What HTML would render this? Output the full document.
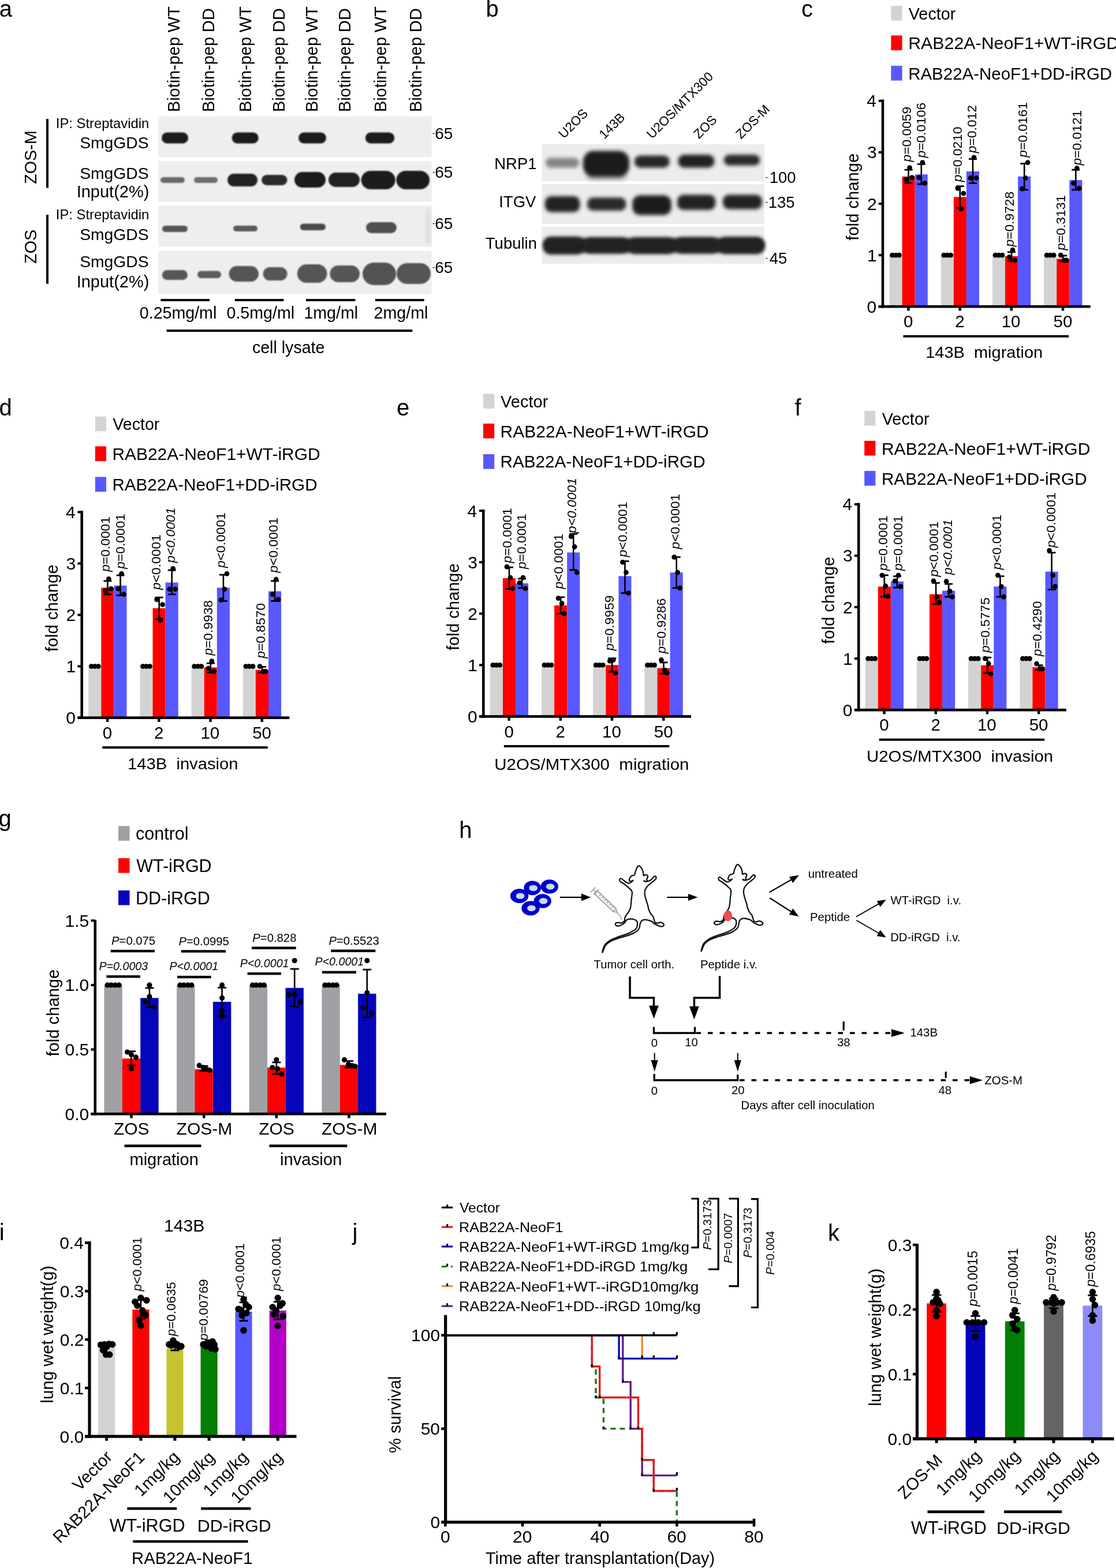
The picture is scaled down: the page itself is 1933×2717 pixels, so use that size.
<!DOCTYPE html>
<html><head><meta charset="utf-8"><title>Figure</title>
<style>html,body{margin:0;padding:0;background:#fff;}svg{display:block;}text{white-space:pre;}</style></head>
<body>
<svg width="1933" height="2717" viewBox="0 0 1933 2717" font-family='"Liberation Sans", sans-serif'>
<rect width="1933" height="2717" fill="#fff"/>
<defs>
<filter id="b2" x="-30%" y="-60%" width="160%" height="220%"><feGaussianBlur stdDeviation="2"/></filter>
<filter id="b3" x="-30%" y="-60%" width="160%" height="220%"><feGaussianBlur stdDeviation="3"/></filter>
<filter id="b4" x="-30%" y="-60%" width="160%" height="220%"><feGaussianBlur stdDeviation="4"/></filter>
<filter id="b1" x="-30%" y="-60%" width="160%" height="220%"><feGaussianBlur stdDeviation="1.2"/></filter>
</defs>
<text x="-1.3" y="28.5" font-size="40.0">a</text>
<text transform="translate(311.1,194.1) rotate(-90)" font-size="28.9">Biotin-pep WT</text>
<text transform="translate(370.5,194.1) rotate(-90)" font-size="28.9">Biotin-pep DD</text>
<text transform="translate(434.5,194.1) rotate(-90)" font-size="28.9">Biotin-pep WT</text>
<text transform="translate(493.0,194.1) rotate(-90)" font-size="28.9">Biotin-pep DD</text>
<text transform="translate(550.0,194.1) rotate(-90)" font-size="28.9">Biotin-pep WT</text>
<text transform="translate(607.0,194.1) rotate(-90)" font-size="28.9">Biotin-pep DD</text>
<text transform="translate(668.5,194.1) rotate(-90)" font-size="28.9">Biotin-pep WT</text>
<text transform="translate(730.0,194.1) rotate(-90)" font-size="28.9">Biotin-pep DD</text>
<rect x="274.5" y="201.5" width="473.0" height="71.0" fill="#eeeeee"/>
<rect x="274.5" y="278.8" width="473.0" height="70.7" fill="#eeeeee"/>
<rect x="274.5" y="356.2" width="473.0" height="71.3" fill="#eeeeee"/>
<rect x="274.5" y="434.5" width="473.0" height="75.0" fill="#eeeeee"/>
<rect x="280.0" y="229.5" width="46.0" height="19.0" rx="9.5" fill="#1c1c1c" filter="url(#b1)"/>
<rect x="401.6" y="229.5" width="46.2" height="19.0" rx="9.5" fill="#1c1c1c" filter="url(#b1)"/>
<rect x="517.0" y="229.5" width="48.0" height="19.0" rx="9.5" fill="#1c1c1c" filter="url(#b1)"/>
<rect x="632.8" y="229.5" width="50.4" height="19.0" rx="9.5" fill="#1c1c1c" filter="url(#b1)"/>
<rect x="278.0" y="307.0" width="42.0" height="10.0" rx="5.0" fill="#6a6a6a" filter="url(#b1)"/>
<rect x="336.0" y="307.0" width="41.0" height="10.0" rx="5.0" fill="#6e6e6e" filter="url(#b1)"/>
<rect x="394.0" y="301.0" width="52.0" height="22.0" rx="11.0" fill="#222" filter="url(#b1)"/>
<rect x="453.0" y="303.0" width="44.5" height="18.0" rx="9.0" fill="#2a2a2a" filter="url(#b1)"/>
<rect x="510.0" y="298.0" width="54.0" height="27.0" rx="13.5" fill="#1e1e1e" filter="url(#b1)"/>
<rect x="569.0" y="299.0" width="54.0" height="25.0" rx="12.5" fill="#222" filter="url(#b1)"/>
<rect x="625.6" y="296.0" width="59.1" height="32.0" rx="16.0" fill="#1a1a1a" filter="url(#b1)"/>
<rect x="686.5" y="296.0" width="57.5" height="32.0" rx="16.0" fill="#1a1a1a" filter="url(#b1)"/>
<rect x="281.0" y="391.0" width="44.0" height="11.0" rx="5.5" fill="#555" filter="url(#b1)"/>
<rect x="404.0" y="391.0" width="42.0" height="10.0" rx="5.0" fill="#5a5a5a" filter="url(#b1)"/>
<rect x="519.7" y="387.5" width="44.3" height="11.5" rx="5.8" fill="#4c4c4c" filter="url(#b1)"/>
<rect x="634.0" y="385.0" width="53.0" height="19.0" rx="9.5" fill="#505050" filter="url(#b1)"/>
<rect x="738.0" y="362.0" width="8.0" height="61.0" rx="3.0" fill="#dcdcdc" filter="url(#b3)"/>
<rect x="280.8" y="468.0" width="44.2" height="17.0" rx="8.5" fill="#575757" filter="url(#b1)"/>
<rect x="342.0" y="469.5" width="41.0" height="12.5" rx="6.2" fill="#5c5c5c" filter="url(#b1)"/>
<rect x="396.6" y="461.0" width="51.4" height="27.0" rx="13.5" fill="#555" filter="url(#b1)"/>
<rect x="455.7" y="463.0" width="41.8" height="23.0" rx="11.5" fill="#575757" filter="url(#b1)"/>
<rect x="514.8" y="458.0" width="51.7" height="32.0" rx="16.0" fill="#545454" filter="url(#b1)"/>
<rect x="571.4" y="460.0" width="51.6" height="29.0" rx="14.5" fill="#565656" filter="url(#b1)"/>
<rect x="628.0" y="455.0" width="58.0" height="39.0" rx="19.5" fill="#535353" filter="url(#b1)"/>
<rect x="687.0" y="456.0" width="59.0" height="36.0" rx="18.0" fill="#555" filter="url(#b1)"/>
<text x="258.2" y="222.0" font-size="23.8" text-anchor="end">IP: Streptavidin</text>
<text x="257.7" y="256.5" font-size="28.3" text-anchor="end">SmgGDS</text>
<text x="257.7" y="309.5" font-size="28.3" text-anchor="end">SmgGDS</text>
<text x="258.4" y="341.5" font-size="29.0" text-anchor="end">Input(2%)</text>
<text x="258.2" y="380.0" font-size="23.8" text-anchor="end">IP: Streptavidin</text>
<text x="257.7" y="415.5" font-size="28.3" text-anchor="end">SmgGDS</text>
<text x="257.7" y="463.2" font-size="28.3" text-anchor="end">SmgGDS</text>
<text x="258.4" y="497.8" font-size="29.0" text-anchor="end">Input(2%)</text>
<text transform="translate(62.8,318.9) rotate(-90)" font-size="28.8">ZOS-M</text>
<text transform="translate(62.8,456.9) rotate(-90)" font-size="28.8">ZOS</text>
<rect x="80.0" y="206.0" width="4.0" height="119.5" fill="#000"/>
<rect x="80.0" y="372.0" width="4.0" height="119.7" fill="#000"/>
<text x="748.8" y="241.2" font-size="28"><tspan font-size="14" dy="-5">-</tspan><tspan dy="5" dx="-0.3">65</tspan></text>
<text x="748.8" y="307.7" font-size="28"><tspan font-size="14" dy="-5">-</tspan><tspan dy="5" dx="-0.3">65</tspan></text>
<text x="748.8" y="397.3" font-size="28"><tspan font-size="14" dy="-5">-</tspan><tspan dy="5" dx="-0.3">65</tspan></text>
<text x="748.8" y="472.6" font-size="28"><tspan font-size="14" dy="-5">-</tspan><tspan dy="5" dx="-0.3">65</tspan></text>
<rect x="278.4" y="518.0" width="84.6" height="4.0" fill="#000"/>
<rect x="406.8" y="518.0" width="84.6" height="4.0" fill="#000"/>
<rect x="530.0" y="518.0" width="85.4" height="4.0" fill="#000"/>
<rect x="650.0" y="518.0" width="84.6" height="4.0" fill="#000"/>
<text x="241.8" y="552.0" font-size="28.6">0.25mg/ml</text>
<text x="392.5" y="552.0" font-size="28.6">0.5mg/ml</text>
<text x="526.4" y="552.0" font-size="28.6">1mg/ml</text>
<text x="647.6" y="552.0" font-size="28.6">2mg/ml</text>
<rect x="288.6" y="571.0" width="425.7" height="4.0" fill="#000"/>
<text x="436.9" y="612.3" font-size="28.6">cell lysate</text>
<text x="841.5" y="28.5" font-size="40.0">b</text>
<rect x="938.6" y="250.0" width="385.2" height="63.8" fill="#ececec"/>
<rect x="938.6" y="319.0" width="385.2" height="69.0" fill="#ececec"/>
<rect x="938.6" y="393.0" width="385.2" height="64.0" fill="#ececec"/>
<rect x="945.0" y="273.5" width="58.0" height="17.0" rx="8.5" fill="#858585" filter="url(#b3)"/>
<rect x="1016.0" y="292.0" width="68.0" height="19.0" rx="8.0" fill="#9a9a9a" filter="url(#b4)"/>
<rect x="1010.0" y="261.5" width="80.0" height="44.1" rx="18.0" fill="#1c1c1c" filter="url(#b3)"/>
<rect x="1098.6" y="269.5" width="61.4" height="21.0" rx="10.5" fill="#262626" filter="url(#b3)"/>
<rect x="1174.4" y="268.0" width="63.1" height="22.5" rx="11.2" fill="#222" filter="url(#b3)"/>
<rect x="1253.7" y="268.0" width="62.6" height="18.7" rx="9.3" fill="#2c2c2c" filter="url(#b3)"/>
<rect x="943.9" y="340.0" width="60.6" height="27.5" rx="11.0" fill="#222" filter="url(#b3)"/>
<rect x="1017.0" y="342.2" width="67.5" height="22.8" rx="10.0" fill="#2a2a2a" filter="url(#b3)"/>
<rect x="1095.4" y="338.5" width="67.4" height="34.0" rx="13.0" fill="#1c1c1c" filter="url(#b3)"/>
<rect x="1173.0" y="337.5" width="66.3" height="26.2" rx="11.0" fill="#222" filter="url(#b3)"/>
<rect x="1252.0" y="337.5" width="68.0" height="24.9" rx="11.0" fill="#222" filter="url(#b3)"/>
<rect x="941.4" y="413.0" width="382.4" height="24.5" rx="12.0" fill="#262626" filter="url(#b3)"/>
<rect x="941.4" y="410.5" width="70.6" height="30.0" rx="13.0" fill="#202020" filter="url(#b3)"/>
<rect x="1010.0" y="412.0" width="80.0" height="26.5" rx="13.0" fill="#202020" filter="url(#b3)"/>
<rect x="1088.0" y="412.0" width="82.0" height="27.5" rx="13.0" fill="#202020" filter="url(#b3)"/>
<rect x="1168.0" y="411.5" width="78.0" height="27.0" rx="13.0" fill="#202020" filter="url(#b3)"/>
<rect x="1244.0" y="411.0" width="79.8" height="28.5" rx="13.0" fill="#202020" filter="url(#b3)"/>
<text x="929.6" y="293.0" font-size="27.5" text-anchor="end">NRP1</text>
<text x="928.4" y="358.6" font-size="27.5" text-anchor="end">ITGV</text>
<text x="930.0" y="431.0" font-size="27.5" text-anchor="end">Tubulin</text>
<text x="1325.5" y="317.0" font-size="27.5"><tspan font-size="14" dy="-5">-</tspan><tspan dy="5" dx="2.5">100</tspan></text>
<text x="1325.5" y="360.0" font-size="27.5"><tspan font-size="14" dy="-5">-</tspan><tspan dy="5" dx="0.5">135</tspan></text>
<text x="1325.5" y="457.0" font-size="27.5"><tspan font-size="14" dy="-5">-</tspan><tspan dy="5" dx="2.5">45</tspan></text>
<text transform="translate(976.5,241.0) rotate(-45)" font-size="22.4">U2OS</text>
<text transform="translate(1046.8,241.9) rotate(-45)" font-size="22.4">143B</text>
<text transform="translate(1129.3,241.4) rotate(-45)" font-size="22.4">U2OS/MTX300</text>
<text transform="translate(1210.6,241.6) rotate(-45)" font-size="22.4">ZOS</text>
<text transform="translate(1283.5,241.7) rotate(-45)" font-size="22.4">ZOS-M</text>
<text x="1387.9" y="28.7" font-size="40.0">c</text>
<rect x="1543.4" y="10.0" width="19.2" height="25.6" fill="#d3d3d3"/>
<text x="1573.7" y="33.5" font-size="29.5" textLength="81.8" lengthAdjust="spacingAndGlyphs">Vector</text>
<rect x="1543.4" y="61.5" width="19.2" height="25.6" fill="#ff0000"/>
<text x="1573.2" y="85.0" font-size="29.5" textLength="365.1" lengthAdjust="spacingAndGlyphs">RAB22A-NeoF1+WT-iRGD</text>
<rect x="1543.4" y="114.0" width="19.2" height="25.6" fill="#5858ff"/>
<text x="1573.2" y="137.5" font-size="29.5" textLength="352.9" lengthAdjust="spacingAndGlyphs">RAB22A-NeoF1+DD-iRGD</text>
<rect x="1540.5" y="442.1" width="22.1" height="89.1" fill="#d3d3d3"/>
<rect x="1562.6" y="305.8" width="22.1" height="225.4" fill="#ff0000"/>
<rect x="1584.7" y="302.2" width="22.1" height="229.0" fill="#5858ff"/>
<rect x="1629.7" y="442.1" width="22.1" height="89.1" fill="#d3d3d3"/>
<rect x="1651.8" y="341.4" width="22.1" height="189.8" fill="#ff0000"/>
<rect x="1673.9" y="296.9" width="22.1" height="234.3" fill="#5858ff"/>
<rect x="1718.9" y="442.1" width="22.1" height="89.1" fill="#d3d3d3"/>
<rect x="1741.0" y="443.9" width="22.1" height="87.3" fill="#ff0000"/>
<rect x="1763.1" y="305.8" width="22.1" height="225.4" fill="#5858ff"/>
<rect x="1808.1" y="442.1" width="22.1" height="89.1" fill="#d3d3d3"/>
<rect x="1830.2" y="448.3" width="22.1" height="82.9" fill="#ff0000"/>
<rect x="1852.3" y="312.0" width="22.1" height="219.2" fill="#5858ff"/>
<circle cx="1545.5" cy="442.1" r="4.4" fill="#000"/>
<circle cx="1551.5" cy="442.1" r="4.4" fill="#000"/>
<circle cx="1557.5" cy="442.1" r="4.4" fill="#000"/>
<rect x="1572.3" y="294.2" width="2.6" height="23.2" fill="#000"/>
<rect x="1566.6" y="292.8" width="14.0" height="2.8" fill="#000"/>
<rect x="1566.6" y="316.0" width="14.0" height="2.8" fill="#000"/>
<circle cx="1569.6" cy="311.1" r="4.4" fill="#000"/>
<circle cx="1575.6" cy="290.6" r="4.4" fill="#000"/>
<circle cx="1579.6" cy="307.6" r="4.4" fill="#000"/>
<rect x="1594.5" y="284.4" width="2.6" height="34.7" fill="#000"/>
<rect x="1588.8" y="283.0" width="14.0" height="2.8" fill="#000"/>
<rect x="1588.8" y="317.7" width="14.0" height="2.8" fill="#000"/>
<circle cx="1591.8" cy="307.6" r="4.4" fill="#000"/>
<circle cx="1597.8" cy="281.7" r="4.4" fill="#000"/>
<circle cx="1601.8" cy="317.4" r="4.4" fill="#000"/>
<circle cx="1634.8" cy="442.1" r="4.4" fill="#000"/>
<circle cx="1640.8" cy="442.1" r="4.4" fill="#000"/>
<circle cx="1646.8" cy="442.1" r="4.4" fill="#000"/>
<rect x="1661.5" y="322.7" width="2.6" height="37.4" fill="#000"/>
<rect x="1655.8" y="321.3" width="14.0" height="2.8" fill="#000"/>
<rect x="1655.8" y="358.7" width="14.0" height="2.8" fill="#000"/>
<circle cx="1658.8" cy="326.3" r="4.4" fill="#000"/>
<circle cx="1664.8" cy="361.9" r="4.4" fill="#000"/>
<circle cx="1668.8" cy="335.2" r="4.4" fill="#000"/>
<rect x="1683.7" y="275.5" width="2.6" height="41.9" fill="#000"/>
<rect x="1678.0" y="274.1" width="14.0" height="2.8" fill="#000"/>
<rect x="1678.0" y="316.0" width="14.0" height="2.8" fill="#000"/>
<circle cx="1681.0" cy="308.5" r="4.4" fill="#000"/>
<circle cx="1687.0" cy="272.8" r="4.4" fill="#000"/>
<circle cx="1691.0" cy="308.5" r="4.4" fill="#000"/>
<circle cx="1724.0" cy="442.1" r="4.4" fill="#000"/>
<circle cx="1730.0" cy="442.1" r="4.4" fill="#000"/>
<circle cx="1736.0" cy="442.1" r="4.4" fill="#000"/>
<rect x="1750.8" y="436.8" width="2.6" height="16.0" fill="#000"/>
<rect x="1745.0" y="435.4" width="14.0" height="2.8" fill="#000"/>
<rect x="1745.0" y="451.4" width="14.0" height="2.8" fill="#000"/>
<circle cx="1748.0" cy="445.7" r="4.4" fill="#000"/>
<circle cx="1754.0" cy="433.2" r="4.4" fill="#000"/>
<circle cx="1758.0" cy="451.0" r="4.4" fill="#000"/>
<rect x="1772.9" y="283.5" width="2.6" height="45.4" fill="#000"/>
<rect x="1767.2" y="282.1" width="14.0" height="2.8" fill="#000"/>
<rect x="1767.2" y="327.5" width="14.0" height="2.8" fill="#000"/>
<circle cx="1770.2" cy="327.2" r="4.4" fill="#000"/>
<circle cx="1776.2" cy="308.5" r="4.4" fill="#000"/>
<circle cx="1780.2" cy="281.7" r="4.4" fill="#000"/>
<circle cx="1813.1" cy="442.1" r="4.4" fill="#000"/>
<circle cx="1819.1" cy="442.1" r="4.4" fill="#000"/>
<circle cx="1825.1" cy="442.1" r="4.4" fill="#000"/>
<rect x="1839.9" y="443.0" width="2.6" height="9.8" fill="#000"/>
<rect x="1834.2" y="441.6" width="14.0" height="2.8" fill="#000"/>
<rect x="1834.2" y="451.4" width="14.0" height="2.8" fill="#000"/>
<circle cx="1837.2" cy="442.1" r="4.4" fill="#000"/>
<circle cx="1843.2" cy="451.0" r="4.4" fill="#000"/>
<circle cx="1847.2" cy="451.0" r="4.4" fill="#000"/>
<rect x="1862.0" y="294.2" width="2.6" height="34.7" fill="#000"/>
<rect x="1856.3" y="292.8" width="14.0" height="2.8" fill="#000"/>
<rect x="1856.3" y="327.5" width="14.0" height="2.8" fill="#000"/>
<circle cx="1859.3" cy="317.4" r="4.4" fill="#000"/>
<circle cx="1865.3" cy="291.5" r="4.4" fill="#000"/>
<circle cx="1869.3" cy="326.3" r="4.4" fill="#000"/>
<rect x="1526.7" y="172.5" width="4.6" height="361.0" fill="#000"/>
<rect x="1521.7" y="528.9" width="367.0" height="4.6" fill="#000"/>
<rect x="1521.7" y="529.2" width="7.3" height="4.0" fill="#000"/>
<text x="1518.3" y="541.7" font-size="30.0" text-anchor="end">0</text>
<rect x="1521.7" y="440.1" width="7.3" height="4.0" fill="#000"/>
<text x="1518.6" y="452.6" font-size="30.0" text-anchor="end">1</text>
<rect x="1521.7" y="351.0" width="7.3" height="4.0" fill="#000"/>
<text x="1518.6" y="363.5" font-size="30.0" text-anchor="end">2</text>
<rect x="1521.7" y="261.9" width="7.3" height="4.0" fill="#000"/>
<text x="1518.6" y="274.4" font-size="30.0" text-anchor="end">3</text>
<rect x="1521.7" y="172.8" width="7.3" height="4.0" fill="#000"/>
<text x="1518.0" y="185.3" font-size="30.0" text-anchor="end">4</text>
<rect x="1571.2" y="531.2" width="4.4" height="7.3" fill="#000"/>
<rect x="1660.4" y="531.2" width="4.4" height="7.3" fill="#000"/>
<rect x="1749.6" y="531.2" width="4.4" height="7.3" fill="#000"/>
<rect x="1838.8" y="531.2" width="4.4" height="7.3" fill="#000"/>
<text x="1565.1" y="567.4" font-size="29.5">0</text>
<text x="1654.3" y="567.4" font-size="29.5">2</text>
<text x="1734.7" y="567.4" font-size="29.5">10</text>
<text x="1824.5" y="567.4" font-size="29.5">50</text>
<rect x="1564.5" y="580.7" width="286.5" height="4.0" fill="#000"/>
<text x="1603.2" y="620.0" font-size="28.5" textLength="203.0" lengthAdjust="spacingAndGlyphs">143B  migration</text>
<text transform="translate(1487.0,416.8) rotate(-90)" font-size="29.2">fold change</text>
<text transform="translate(1578.2,280.5) rotate(-90)" font-size="22.8"><tspan font-style="italic">p</tspan>=0.0059</text>
<text transform="translate(1602.6,273.5) rotate(-90)" font-size="22.8"><tspan font-style="italic">p</tspan>=0.0106</text>
<text transform="translate(1666.3,315.3) rotate(-90)" font-size="22.8"><tspan font-style="italic">p</tspan>=0.0210</text>
<text transform="translate(1690.6,265.2) rotate(-90)" font-size="22.8"><tspan font-style="italic">p</tspan>=0.012</text>
<text transform="translate(1755.8,427.5) rotate(-90)" font-size="22.8"><tspan font-style="italic">p</tspan>=0.9728</text>
<text transform="translate(1778.6,272.8) rotate(-90)" font-size="22.8"><tspan font-style="italic">p</tspan>=0.0161</text>
<text transform="translate(1845.4,433.7) rotate(-90)" font-size="22.8"><tspan font-style="italic">p</tspan>=0.3131</text>
<text transform="translate(1872.6,286.5) rotate(-90)" font-size="22.8"><tspan font-style="italic">p</tspan>=0.0121</text>
<text x="-1.6" y="720.3" font-size="40.0">d</text>
<rect x="164.8" y="721.7" width="19.2" height="25.6" fill="#d3d3d3"/>
<text x="195.3" y="745.1" font-size="29.4" textLength="81.0" lengthAdjust="spacingAndGlyphs">Vector</text>
<rect x="164.8" y="773.4" width="19.2" height="25.6" fill="#ff0000"/>
<text x="194.4" y="796.8" font-size="29.4" textLength="360.2" lengthAdjust="spacingAndGlyphs">RAB22A-NeoF1+WT-iRGD</text>
<rect x="164.8" y="826.4" width="19.2" height="25.6" fill="#5858ff"/>
<text x="194.4" y="849.8" font-size="29.4" textLength="355.2" lengthAdjust="spacingAndGlyphs">RAB22A-NeoF1+DD-iRGD</text>
<rect x="153.2" y="1154.6" width="22.1" height="89.1" fill="#d3d3d3"/>
<rect x="175.3" y="1018.3" width="22.1" height="225.4" fill="#ff0000"/>
<rect x="197.4" y="1014.7" width="22.1" height="229.0" fill="#5858ff"/>
<rect x="242.4" y="1154.6" width="22.1" height="89.1" fill="#d3d3d3"/>
<rect x="264.5" y="1053.9" width="22.1" height="189.8" fill="#ff0000"/>
<rect x="286.6" y="1009.4" width="22.1" height="234.3" fill="#5858ff"/>
<rect x="331.6" y="1154.6" width="22.1" height="89.1" fill="#d3d3d3"/>
<rect x="353.7" y="1156.4" width="22.1" height="87.3" fill="#ff0000"/>
<rect x="375.8" y="1018.3" width="22.1" height="225.4" fill="#5858ff"/>
<rect x="420.8" y="1154.6" width="22.1" height="89.1" fill="#d3d3d3"/>
<rect x="442.9" y="1160.8" width="22.1" height="82.9" fill="#ff0000"/>
<rect x="465.0" y="1024.5" width="22.1" height="219.2" fill="#5858ff"/>
<circle cx="158.3" cy="1154.6" r="4.4" fill="#000"/>
<circle cx="164.3" cy="1154.6" r="4.4" fill="#000"/>
<circle cx="170.3" cy="1154.6" r="4.4" fill="#000"/>
<rect x="185.1" y="1006.7" width="2.6" height="23.2" fill="#000"/>
<rect x="179.4" y="1005.3" width="14.0" height="2.8" fill="#000"/>
<rect x="179.4" y="1028.5" width="14.0" height="2.8" fill="#000"/>
<circle cx="182.4" cy="1023.6" r="4.4" fill="#000"/>
<circle cx="188.4" cy="1003.1" r="4.4" fill="#000"/>
<circle cx="192.4" cy="1020.1" r="4.4" fill="#000"/>
<rect x="207.2" y="996.9" width="2.6" height="34.7" fill="#000"/>
<rect x="201.5" y="995.5" width="14.0" height="2.8" fill="#000"/>
<rect x="201.5" y="1030.2" width="14.0" height="2.8" fill="#000"/>
<circle cx="204.5" cy="1020.1" r="4.4" fill="#000"/>
<circle cx="210.5" cy="994.2" r="4.4" fill="#000"/>
<circle cx="214.5" cy="1029.9" r="4.4" fill="#000"/>
<circle cx="247.5" cy="1154.6" r="4.4" fill="#000"/>
<circle cx="253.5" cy="1154.6" r="4.4" fill="#000"/>
<circle cx="259.5" cy="1154.6" r="4.4" fill="#000"/>
<rect x="274.3" y="1035.2" width="2.6" height="37.4" fill="#000"/>
<rect x="268.6" y="1033.8" width="14.0" height="2.8" fill="#000"/>
<rect x="268.6" y="1071.2" width="14.0" height="2.8" fill="#000"/>
<circle cx="271.6" cy="1038.8" r="4.4" fill="#000"/>
<circle cx="277.6" cy="1074.4" r="4.4" fill="#000"/>
<circle cx="281.6" cy="1047.7" r="4.4" fill="#000"/>
<rect x="296.4" y="988.0" width="2.6" height="41.9" fill="#000"/>
<rect x="290.7" y="986.6" width="14.0" height="2.8" fill="#000"/>
<rect x="290.7" y="1028.5" width="14.0" height="2.8" fill="#000"/>
<circle cx="293.7" cy="1021.0" r="4.4" fill="#000"/>
<circle cx="299.7" cy="985.3" r="4.4" fill="#000"/>
<circle cx="303.7" cy="1021.0" r="4.4" fill="#000"/>
<circle cx="336.7" cy="1154.6" r="4.4" fill="#000"/>
<circle cx="342.7" cy="1154.6" r="4.4" fill="#000"/>
<circle cx="348.7" cy="1154.6" r="4.4" fill="#000"/>
<rect x="363.5" y="1149.3" width="2.6" height="16.0" fill="#000"/>
<rect x="357.8" y="1147.9" width="14.0" height="2.8" fill="#000"/>
<rect x="357.8" y="1163.9" width="14.0" height="2.8" fill="#000"/>
<circle cx="360.8" cy="1158.2" r="4.4" fill="#000"/>
<circle cx="366.8" cy="1145.7" r="4.4" fill="#000"/>
<circle cx="370.8" cy="1163.5" r="4.4" fill="#000"/>
<rect x="385.6" y="996.0" width="2.6" height="45.4" fill="#000"/>
<rect x="379.9" y="994.6" width="14.0" height="2.8" fill="#000"/>
<rect x="379.9" y="1040.0" width="14.0" height="2.8" fill="#000"/>
<circle cx="382.9" cy="1039.7" r="4.4" fill="#000"/>
<circle cx="388.9" cy="1021.0" r="4.4" fill="#000"/>
<circle cx="392.9" cy="994.2" r="4.4" fill="#000"/>
<circle cx="425.9" cy="1154.6" r="4.4" fill="#000"/>
<circle cx="431.9" cy="1154.6" r="4.4" fill="#000"/>
<circle cx="437.9" cy="1154.6" r="4.4" fill="#000"/>
<rect x="452.7" y="1155.5" width="2.6" height="9.8" fill="#000"/>
<rect x="447.0" y="1154.1" width="14.0" height="2.8" fill="#000"/>
<rect x="447.0" y="1163.9" width="14.0" height="2.8" fill="#000"/>
<circle cx="450.0" cy="1154.6" r="4.4" fill="#000"/>
<circle cx="456.0" cy="1163.5" r="4.4" fill="#000"/>
<circle cx="460.0" cy="1163.5" r="4.4" fill="#000"/>
<rect x="474.8" y="1006.7" width="2.6" height="34.7" fill="#000"/>
<rect x="469.1" y="1005.3" width="14.0" height="2.8" fill="#000"/>
<rect x="469.1" y="1040.0" width="14.0" height="2.8" fill="#000"/>
<circle cx="472.1" cy="1029.9" r="4.4" fill="#000"/>
<circle cx="478.1" cy="1004.0" r="4.4" fill="#000"/>
<circle cx="482.1" cy="1038.8" r="4.4" fill="#000"/>
<rect x="139.4" y="885.0" width="4.6" height="361.0" fill="#000"/>
<rect x="134.4" y="1241.4" width="367.0" height="4.6" fill="#000"/>
<rect x="134.4" y="1241.7" width="7.3" height="4.0" fill="#000"/>
<text x="131.0" y="1254.2" font-size="30.0" text-anchor="end">0</text>
<rect x="134.4" y="1152.6" width="7.3" height="4.0" fill="#000"/>
<text x="131.3" y="1165.1" font-size="30.0" text-anchor="end">1</text>
<rect x="134.4" y="1063.5" width="7.3" height="4.0" fill="#000"/>
<text x="131.3" y="1076.0" font-size="30.0" text-anchor="end">2</text>
<rect x="134.4" y="974.4" width="7.3" height="4.0" fill="#000"/>
<text x="131.3" y="986.9" font-size="30.0" text-anchor="end">3</text>
<rect x="134.4" y="885.3" width="7.3" height="4.0" fill="#000"/>
<text x="130.7" y="897.8" font-size="30.0" text-anchor="end">4</text>
<rect x="183.9" y="1243.7" width="4.4" height="7.3" fill="#000"/>
<rect x="273.1" y="1243.7" width="4.4" height="7.3" fill="#000"/>
<rect x="362.3" y="1243.7" width="4.4" height="7.3" fill="#000"/>
<rect x="451.5" y="1243.7" width="4.4" height="7.3" fill="#000"/>
<text x="177.8" y="1279.9" font-size="29.5">0</text>
<text x="267.0" y="1279.9" font-size="29.5">2</text>
<text x="347.4" y="1279.9" font-size="29.5">10</text>
<text x="437.2" y="1279.9" font-size="29.5">50</text>
<rect x="177.2" y="1293.2" width="286.5" height="4.0" fill="#000"/>
<text x="221.1" y="1333.4" font-size="28.5" textLength="191.3" lengthAdjust="spacingAndGlyphs">143B  invasion</text>
<text transform="translate(99.7,1129.3) rotate(-90)" font-size="29.2">fold change</text>
<text transform="translate(190.0,990.8) rotate(-90)" font-size="22.8"><tspan font-style="italic">p</tspan>=0.0001</text>
<text transform="translate(215.8,985.7) rotate(-90)" font-size="22.8"><tspan font-style="italic">p</tspan>=0.0001</text>
<text transform="translate(277.9,1021.9) rotate(-90)" font-size="22.8"><tspan font-style="italic">p</tspan>&lt;0.0001</text>
<text transform="translate(302.7,975.3) rotate(-90)" font-size="22.8"><tspan font-style="italic">p&lt;0.0001</tspan></text>
<text transform="translate(367.6,1135.7) rotate(-90)" font-size="22.8"><tspan font-style="italic">p</tspan>=0.9938</text>
<text transform="translate(390.0,983.9) rotate(-90)" font-size="22.8"><tspan font-style="italic">p</tspan>&lt;0.0001</text>
<text transform="translate(458.9,1140.8) rotate(-90)" font-size="22.8"><tspan font-style="italic">p</tspan>=0.8570</text>
<text transform="translate(481.4,992.5) rotate(-90)" font-size="22.8"><tspan font-style="italic">p</tspan>&lt;0.0001</text>
<text x="687.0" y="720.0" font-size="40.0">e</text>
<rect x="837.0" y="682.3" width="19.2" height="25.6" fill="#d3d3d3"/>
<text x="867.1" y="706.0" font-size="29.4" textLength="82.3" lengthAdjust="spacingAndGlyphs">Vector</text>
<rect x="837.0" y="734.0" width="19.2" height="25.6" fill="#ff0000"/>
<text x="866.6" y="758.0" font-size="29.4" textLength="361.2" lengthAdjust="spacingAndGlyphs">RAB22A-NeoF1+WT-iRGD</text>
<rect x="837.0" y="787.0" width="19.2" height="25.6" fill="#5858ff"/>
<text x="866.6" y="810.4" font-size="29.4" textLength="355.0" lengthAdjust="spacingAndGlyphs">RAB22A-NeoF1+DD-iRGD</text>
<rect x="848.8" y="1152.4" width="22.1" height="89.1" fill="#d3d3d3"/>
<rect x="870.9" y="1001.8" width="22.1" height="239.7" fill="#ff0000"/>
<rect x="893.0" y="1010.7" width="22.1" height="230.8" fill="#5858ff"/>
<rect x="938.0" y="1152.4" width="22.1" height="89.1" fill="#d3d3d3"/>
<rect x="960.1" y="1049.0" width="22.1" height="192.5" fill="#ff0000"/>
<rect x="982.2" y="957.3" width="22.1" height="284.2" fill="#5858ff"/>
<rect x="1027.2" y="1152.4" width="22.1" height="89.1" fill="#d3d3d3"/>
<rect x="1049.3" y="1152.4" width="22.1" height="89.1" fill="#ff0000"/>
<rect x="1071.4" y="998.3" width="22.1" height="243.2" fill="#5858ff"/>
<rect x="1116.4" y="1152.4" width="22.1" height="89.1" fill="#d3d3d3"/>
<rect x="1138.5" y="1157.7" width="22.1" height="83.8" fill="#ff0000"/>
<rect x="1160.6" y="992.0" width="22.1" height="249.5" fill="#5858ff"/>
<circle cx="853.8" cy="1152.4" r="4.4" fill="#000"/>
<circle cx="859.8" cy="1152.4" r="4.4" fill="#000"/>
<circle cx="865.8" cy="1152.4" r="4.4" fill="#000"/>
<rect x="880.7" y="983.1" width="2.6" height="37.4" fill="#000"/>
<rect x="875.0" y="981.7" width="14.0" height="2.8" fill="#000"/>
<rect x="875.0" y="1019.1" width="14.0" height="2.8" fill="#000"/>
<circle cx="878.0" cy="982.2" r="4.4" fill="#000"/>
<circle cx="884.0" cy="1000.9" r="4.4" fill="#000"/>
<circle cx="888.0" cy="1019.6" r="4.4" fill="#000"/>
<rect x="902.8" y="1002.7" width="2.6" height="16.0" fill="#000"/>
<rect x="897.0" y="1001.3" width="14.0" height="2.8" fill="#000"/>
<rect x="897.0" y="1017.4" width="14.0" height="2.8" fill="#000"/>
<circle cx="900.0" cy="1009.8" r="4.4" fill="#000"/>
<circle cx="906.0" cy="1000.9" r="4.4" fill="#000"/>
<circle cx="910.0" cy="1019.6" r="4.4" fill="#000"/>
<circle cx="943.0" cy="1152.4" r="4.4" fill="#000"/>
<circle cx="949.0" cy="1152.4" r="4.4" fill="#000"/>
<circle cx="955.0" cy="1152.4" r="4.4" fill="#000"/>
<rect x="969.9" y="1034.8" width="2.6" height="28.5" fill="#000"/>
<rect x="964.2" y="1033.4" width="14.0" height="2.8" fill="#000"/>
<rect x="964.2" y="1061.9" width="14.0" height="2.8" fill="#000"/>
<circle cx="967.2" cy="1036.6" r="4.4" fill="#000"/>
<circle cx="973.2" cy="1045.5" r="4.4" fill="#000"/>
<circle cx="977.2" cy="1063.3" r="4.4" fill="#000"/>
<rect x="992.0" y="925.2" width="2.6" height="62.4" fill="#000"/>
<rect x="986.2" y="923.8" width="14.0" height="2.8" fill="#000"/>
<rect x="986.2" y="986.2" width="14.0" height="2.8" fill="#000"/>
<circle cx="989.2" cy="929.7" r="4.4" fill="#000"/>
<circle cx="995.2" cy="947.5" r="4.4" fill="#000"/>
<circle cx="999.2" cy="992.0" r="4.4" fill="#000"/>
<circle cx="1032.2" cy="1152.4" r="4.4" fill="#000"/>
<circle cx="1038.2" cy="1152.4" r="4.4" fill="#000"/>
<circle cx="1044.2" cy="1152.4" r="4.4" fill="#000"/>
<rect x="1059.0" y="1140.8" width="2.6" height="23.2" fill="#000"/>
<rect x="1053.3" y="1139.4" width="14.0" height="2.8" fill="#000"/>
<rect x="1053.3" y="1162.6" width="14.0" height="2.8" fill="#000"/>
<circle cx="1056.3" cy="1145.3" r="4.4" fill="#000"/>
<circle cx="1062.3" cy="1143.5" r="4.4" fill="#000"/>
<circle cx="1066.3" cy="1165.8" r="4.4" fill="#000"/>
<rect x="1081.2" y="972.4" width="2.6" height="55.2" fill="#000"/>
<rect x="1075.5" y="971.0" width="14.0" height="2.8" fill="#000"/>
<rect x="1075.5" y="1026.3" width="14.0" height="2.8" fill="#000"/>
<circle cx="1078.5" cy="974.2" r="4.4" fill="#000"/>
<circle cx="1084.5" cy="992.0" r="4.4" fill="#000"/>
<circle cx="1088.5" cy="1027.7" r="4.4" fill="#000"/>
<circle cx="1121.5" cy="1152.4" r="4.4" fill="#000"/>
<circle cx="1127.5" cy="1152.4" r="4.4" fill="#000"/>
<circle cx="1133.5" cy="1152.4" r="4.4" fill="#000"/>
<rect x="1148.2" y="1147.9" width="2.6" height="19.6" fill="#000"/>
<rect x="1142.5" y="1146.5" width="14.0" height="2.8" fill="#000"/>
<rect x="1142.5" y="1166.1" width="14.0" height="2.8" fill="#000"/>
<circle cx="1145.5" cy="1143.5" r="4.4" fill="#000"/>
<circle cx="1151.5" cy="1161.3" r="4.4" fill="#000"/>
<circle cx="1155.5" cy="1165.8" r="4.4" fill="#000"/>
<rect x="1170.4" y="965.3" width="2.6" height="53.5" fill="#000"/>
<rect x="1164.7" y="963.9" width="14.0" height="2.8" fill="#000"/>
<rect x="1164.7" y="1017.4" width="14.0" height="2.8" fill="#000"/>
<circle cx="1167.7" cy="965.3" r="4.4" fill="#000"/>
<circle cx="1173.7" cy="992.0" r="4.4" fill="#000"/>
<circle cx="1177.7" cy="1018.8" r="4.4" fill="#000"/>
<rect x="835.0" y="882.8" width="4.6" height="361.0" fill="#000"/>
<rect x="830.0" y="1239.2" width="367.0" height="4.6" fill="#000"/>
<rect x="830.0" y="1239.5" width="7.3" height="4.0" fill="#000"/>
<text x="826.6" y="1252.0" font-size="30.0" text-anchor="end">0</text>
<rect x="830.0" y="1150.4" width="7.3" height="4.0" fill="#000"/>
<text x="826.9" y="1162.9" font-size="30.0" text-anchor="end">1</text>
<rect x="830.0" y="1061.3" width="7.3" height="4.0" fill="#000"/>
<text x="826.9" y="1073.8" font-size="30.0" text-anchor="end">2</text>
<rect x="830.0" y="972.2" width="7.3" height="4.0" fill="#000"/>
<text x="826.9" y="984.7" font-size="30.0" text-anchor="end">3</text>
<rect x="830.0" y="883.1" width="7.3" height="4.0" fill="#000"/>
<text x="826.3" y="895.6" font-size="30.0" text-anchor="end">4</text>
<rect x="879.5" y="1241.5" width="4.4" height="7.3" fill="#000"/>
<rect x="968.7" y="1241.5" width="4.4" height="7.3" fill="#000"/>
<rect x="1057.9" y="1241.5" width="4.4" height="7.3" fill="#000"/>
<rect x="1147.1" y="1241.5" width="4.4" height="7.3" fill="#000"/>
<text x="873.4" y="1277.7" font-size="29.5">0</text>
<text x="962.6" y="1277.7" font-size="29.5">2</text>
<text x="1043.0" y="1277.7" font-size="29.5">10</text>
<text x="1132.8" y="1277.7" font-size="29.5">50</text>
<rect x="872.8" y="1291.0" width="286.5" height="4.0" fill="#000"/>
<text x="856.3" y="1333.8" font-size="28.5" textLength="337.2" lengthAdjust="spacingAndGlyphs">U2OS/MTX300  migration</text>
<text transform="translate(795.3,1127.1) rotate(-90)" font-size="29.2">fold change</text>
<text transform="translate(885.5,975.7) rotate(-90)" font-size="22.8"><tspan font-style="italic">p</tspan>=0.0001</text>
<text transform="translate(911.4,986.0) rotate(-90)" font-size="22.8"><tspan font-style="italic">p</tspan>=0.0001</text>
<text transform="translate(974.5,1020.5) rotate(-90)" font-size="22.8"><tspan font-style="italic">p</tspan>&lt;0.0001</text>
<text transform="translate(997.6,923.9) rotate(-90)" font-size="22.8"><tspan font-style="italic">p&lt;0.0001</tspan></text>
<text transform="translate(1063.1,1127.4) rotate(-90)" font-size="22.8"><tspan font-style="italic">p</tspan>=0.9959</text>
<text transform="translate(1085.5,965.3) rotate(-90)" font-size="22.8"><tspan font-style="italic">p</tspan>&lt;0.0001</text>
<text transform="translate(1152.7,1132.5) rotate(-90)" font-size="22.8"><tspan font-style="italic">p</tspan>=0.9286</text>
<text transform="translate(1176.9,951.5) rotate(-90)" font-size="22.8"><tspan font-style="italic">p</tspan>&lt;0.0001</text>
<text x="1376.6" y="720.0" font-size="40.0">f</text>
<rect x="1497.2" y="712.0" width="19.2" height="25.6" fill="#d3d3d3"/>
<text x="1527.7" y="735.7" font-size="29.4" textLength="81.9" lengthAdjust="spacingAndGlyphs">Vector</text>
<rect x="1497.2" y="763.8" width="19.2" height="25.6" fill="#ff0000"/>
<text x="1526.9" y="787.7" font-size="29.4" textLength="361.5" lengthAdjust="spacingAndGlyphs">RAB22A-NeoF1+WT-iRGD</text>
<rect x="1497.2" y="816.0" width="19.2" height="25.6" fill="#5858ff"/>
<text x="1526.9" y="840.0" font-size="29.4" textLength="355.7" lengthAdjust="spacingAndGlyphs">RAB22A-NeoF1+DD-iRGD</text>
<rect x="1498.7" y="1141.1" width="22.1" height="89.1" fill="#d3d3d3"/>
<rect x="1520.8" y="1016.4" width="22.1" height="213.8" fill="#ff0000"/>
<rect x="1542.9" y="1007.5" width="22.1" height="222.8" fill="#5858ff"/>
<rect x="1587.9" y="1141.1" width="22.1" height="89.1" fill="#d3d3d3"/>
<rect x="1610.0" y="1029.7" width="22.1" height="200.5" fill="#ff0000"/>
<rect x="1632.1" y="1023.5" width="22.1" height="206.7" fill="#5858ff"/>
<rect x="1677.1" y="1141.1" width="22.1" height="89.1" fill="#d3d3d3"/>
<rect x="1699.2" y="1152.7" width="22.1" height="77.5" fill="#ff0000"/>
<rect x="1721.3" y="1016.4" width="22.1" height="213.8" fill="#5858ff"/>
<rect x="1766.3" y="1141.1" width="22.1" height="89.1" fill="#d3d3d3"/>
<rect x="1788.4" y="1156.2" width="22.1" height="74.0" fill="#ff0000"/>
<rect x="1810.5" y="990.5" width="22.1" height="239.7" fill="#5858ff"/>
<circle cx="1503.8" cy="1141.1" r="4.4" fill="#000"/>
<circle cx="1509.8" cy="1141.1" r="4.4" fill="#000"/>
<circle cx="1515.8" cy="1141.1" r="4.4" fill="#000"/>
<rect x="1530.5" y="996.8" width="2.6" height="37.4" fill="#000"/>
<rect x="1524.8" y="995.4" width="14.0" height="2.8" fill="#000"/>
<rect x="1524.8" y="1032.8" width="14.0" height="2.8" fill="#000"/>
<circle cx="1527.8" cy="996.8" r="4.4" fill="#000"/>
<circle cx="1533.8" cy="1015.5" r="4.4" fill="#000"/>
<circle cx="1537.8" cy="1033.3" r="4.4" fill="#000"/>
<rect x="1552.7" y="998.5" width="2.6" height="19.6" fill="#000"/>
<rect x="1547.0" y="997.1" width="14.0" height="2.8" fill="#000"/>
<rect x="1547.0" y="1016.7" width="14.0" height="2.8" fill="#000"/>
<circle cx="1550.0" cy="1006.6" r="4.4" fill="#000"/>
<circle cx="1556.0" cy="996.8" r="4.4" fill="#000"/>
<circle cx="1560.0" cy="1016.4" r="4.4" fill="#000"/>
<circle cx="1593.0" cy="1141.1" r="4.4" fill="#000"/>
<circle cx="1599.0" cy="1141.1" r="4.4" fill="#000"/>
<circle cx="1605.0" cy="1141.1" r="4.4" fill="#000"/>
<rect x="1619.8" y="1010.1" width="2.6" height="36.5" fill="#000"/>
<rect x="1614.0" y="1008.7" width="14.0" height="2.8" fill="#000"/>
<rect x="1614.0" y="1045.3" width="14.0" height="2.8" fill="#000"/>
<circle cx="1617.0" cy="1006.6" r="4.4" fill="#000"/>
<circle cx="1623.0" cy="1034.2" r="4.4" fill="#000"/>
<circle cx="1627.0" cy="1044.0" r="4.4" fill="#000"/>
<rect x="1641.9" y="1011.9" width="2.6" height="22.3" fill="#000"/>
<rect x="1636.2" y="1010.5" width="14.0" height="2.8" fill="#000"/>
<rect x="1636.2" y="1032.8" width="14.0" height="2.8" fill="#000"/>
<circle cx="1639.2" cy="1007.5" r="4.4" fill="#000"/>
<circle cx="1645.2" cy="1024.4" r="4.4" fill="#000"/>
<circle cx="1649.2" cy="1034.2" r="4.4" fill="#000"/>
<circle cx="1682.2" cy="1141.1" r="4.4" fill="#000"/>
<circle cx="1688.2" cy="1141.1" r="4.4" fill="#000"/>
<circle cx="1694.2" cy="1141.1" r="4.4" fill="#000"/>
<rect x="1709.0" y="1139.3" width="2.6" height="26.7" fill="#000"/>
<rect x="1703.2" y="1137.9" width="14.0" height="2.8" fill="#000"/>
<rect x="1703.2" y="1164.6" width="14.0" height="2.8" fill="#000"/>
<circle cx="1706.2" cy="1141.1" r="4.4" fill="#000"/>
<circle cx="1712.2" cy="1150.0" r="4.4" fill="#000"/>
<circle cx="1716.2" cy="1167.8" r="4.4" fill="#000"/>
<rect x="1731.1" y="998.5" width="2.6" height="35.6" fill="#000"/>
<rect x="1725.4" y="997.1" width="14.0" height="2.8" fill="#000"/>
<rect x="1725.4" y="1032.8" width="14.0" height="2.8" fill="#000"/>
<circle cx="1728.4" cy="996.8" r="4.4" fill="#000"/>
<circle cx="1734.4" cy="1016.4" r="4.4" fill="#000"/>
<circle cx="1738.4" cy="1034.2" r="4.4" fill="#000"/>
<circle cx="1771.4" cy="1141.1" r="4.4" fill="#000"/>
<circle cx="1777.4" cy="1141.1" r="4.4" fill="#000"/>
<circle cx="1783.4" cy="1141.1" r="4.4" fill="#000"/>
<rect x="1798.2" y="1152.7" width="2.6" height="8.0" fill="#000"/>
<rect x="1792.5" y="1151.3" width="14.0" height="2.8" fill="#000"/>
<rect x="1792.5" y="1159.3" width="14.0" height="2.8" fill="#000"/>
<circle cx="1795.5" cy="1150.0" r="4.4" fill="#000"/>
<circle cx="1801.5" cy="1158.9" r="4.4" fill="#000"/>
<circle cx="1805.5" cy="1158.9" r="4.4" fill="#000"/>
<rect x="1820.3" y="957.6" width="2.6" height="64.2" fill="#000"/>
<rect x="1814.6" y="956.2" width="14.0" height="2.8" fill="#000"/>
<rect x="1814.6" y="1020.3" width="14.0" height="2.8" fill="#000"/>
<circle cx="1817.6" cy="954.0" r="4.4" fill="#000"/>
<circle cx="1823.6" cy="996.8" r="4.4" fill="#000"/>
<circle cx="1827.6" cy="1016.4" r="4.4" fill="#000"/>
<rect x="1484.9" y="871.5" width="4.6" height="361.0" fill="#000"/>
<rect x="1479.9" y="1227.9" width="367.0" height="4.6" fill="#000"/>
<rect x="1479.9" y="1228.2" width="7.3" height="4.0" fill="#000"/>
<text x="1476.5" y="1240.7" font-size="30.0" text-anchor="end">0</text>
<rect x="1479.9" y="1139.1" width="7.3" height="4.0" fill="#000"/>
<text x="1476.8" y="1151.6" font-size="30.0" text-anchor="end">1</text>
<rect x="1479.9" y="1050.0" width="7.3" height="4.0" fill="#000"/>
<text x="1476.8" y="1062.5" font-size="30.0" text-anchor="end">2</text>
<rect x="1479.9" y="960.9" width="7.3" height="4.0" fill="#000"/>
<text x="1476.8" y="973.4" font-size="30.0" text-anchor="end">3</text>
<rect x="1479.9" y="871.8" width="7.3" height="4.0" fill="#000"/>
<text x="1476.2" y="884.3" font-size="30.0" text-anchor="end">4</text>
<rect x="1529.4" y="1230.2" width="4.4" height="7.3" fill="#000"/>
<rect x="1618.6" y="1230.2" width="4.4" height="7.3" fill="#000"/>
<rect x="1707.8" y="1230.2" width="4.4" height="7.3" fill="#000"/>
<rect x="1797.0" y="1230.2" width="4.4" height="7.3" fill="#000"/>
<text x="1523.3" y="1266.4" font-size="29.5">0</text>
<text x="1612.5" y="1266.4" font-size="29.5">2</text>
<text x="1692.9" y="1266.4" font-size="29.5">10</text>
<text x="1782.7" y="1266.4" font-size="29.5">50</text>
<rect x="1522.7" y="1279.7" width="286.5" height="4.0" fill="#000"/>
<text x="1501.1" y="1319.5" font-size="28.5" textLength="323.1" lengthAdjust="spacingAndGlyphs">U2OS/MTX300  invasion</text>
<text transform="translate(1445.2,1115.8) rotate(-90)" font-size="29.2">fold change</text>
<text transform="translate(1536.7,989.0) rotate(-90)" font-size="22.8"><tspan font-style="italic">p</tspan>=0.0001</text>
<text transform="translate(1562.7,989.0) rotate(-90)" font-size="22.8"><tspan font-style="italic">p</tspan>=0.0001</text>
<text transform="translate(1625.1,999.4) rotate(-90)" font-size="22.8"><tspan font-style="italic">p</tspan>&lt;0.0001</text>
<text transform="translate(1649.4,995.9) rotate(-90)" font-size="22.8"><tspan font-style="italic">p&lt;0.0001</tspan></text>
<text transform="translate(1713.5,1131.1) rotate(-90)" font-size="22.8"><tspan font-style="italic">p</tspan>=0.5775</text>
<text transform="translate(1734.3,987.3) rotate(-90)" font-size="22.8"><tspan font-style="italic">p</tspan>&lt;0.0001</text>
<text transform="translate(1803.6,1137.3) rotate(-90)" font-size="22.8"><tspan font-style="italic">p</tspan>=0.4290</text>
<text transform="translate(1827.9,949.1) rotate(-90)" font-size="22.8"><tspan font-style="italic">p</tspan>&lt;0.0001</text>
<text x="-2.5" y="1431.8" font-size="40.0">g</text>
<rect x="205.0" y="1431.3" width="19.5" height="25.5" fill="#a0a0a4"/>
<text x="235.0" y="1455.1" font-size="30.5">control</text>
<rect x="205.0" y="1487.1" width="19.5" height="25.5" fill="#ff0000"/>
<text x="236.2" y="1511.1" font-size="30.5">WT-iRGD</text>
<rect x="205.0" y="1542.9" width="19.5" height="25.5" fill="#0505b9"/>
<text x="235.0" y="1567.2" font-size="30.5">DD-iRGD</text>
<rect x="180.4" y="1706.9" width="31.4" height="223.3" fill="#a0a0a4"/>
<rect x="211.8" y="1834.2" width="31.4" height="96.0" fill="#ff0000"/>
<rect x="243.2" y="1729.2" width="31.4" height="201.0" fill="#0505b9"/>
<rect x="306.1" y="1706.9" width="31.4" height="223.3" fill="#a0a0a4"/>
<rect x="337.4" y="1852.7" width="31.4" height="77.5" fill="#ff0000"/>
<rect x="368.9" y="1735.9" width="31.4" height="194.3" fill="#0505b9"/>
<rect x="431.7" y="1706.9" width="31.4" height="223.3" fill="#a0a0a4"/>
<rect x="463.1" y="1849.8" width="31.4" height="80.4" fill="#ff0000"/>
<rect x="494.5" y="1711.8" width="31.4" height="218.4" fill="#0505b9"/>
<rect x="557.4" y="1706.9" width="31.4" height="223.3" fill="#a0a0a4"/>
<rect x="588.8" y="1845.3" width="31.4" height="84.9" fill="#ff0000"/>
<rect x="620.1" y="1721.9" width="31.4" height="208.3" fill="#0505b9"/>
<circle cx="186.1" cy="1706.9" r="4.6" fill="#000"/>
<circle cx="192.6" cy="1706.9" r="4.6" fill="#000"/>
<circle cx="199.6" cy="1706.9" r="4.6" fill="#000"/>
<circle cx="206.1" cy="1706.9" r="4.6" fill="#000"/>
<rect x="226.2" y="1821.7" width="2.6" height="24.6" fill="#000"/>
<rect x="220.0" y="1820.3" width="15.0" height="2.8" fill="#000"/>
<rect x="220.0" y="1844.8" width="15.0" height="2.8" fill="#000"/>
<circle cx="220.5" cy="1823.0" r="4.6" fill="#000"/>
<circle cx="227.5" cy="1827.5" r="4.6" fill="#000"/>
<circle cx="235.5" cy="1831.9" r="4.6" fill="#000"/>
<circle cx="227.5" cy="1852.0" r="4.6" fill="#000"/>
<rect x="257.6" y="1712.0" width="2.6" height="32.8" fill="#000"/>
<rect x="251.4" y="1710.6" width="15.0" height="2.8" fill="#000"/>
<rect x="251.4" y="1743.5" width="15.0" height="2.8" fill="#000"/>
<circle cx="258.9" cy="1706.9" r="4.6" fill="#000"/>
<circle cx="258.9" cy="1727.0" r="4.6" fill="#000"/>
<circle cx="251.9" cy="1735.9" r="4.6" fill="#000"/>
<circle cx="265.9" cy="1744.9" r="4.6" fill="#000"/>
<circle cx="311.8" cy="1706.9" r="4.6" fill="#000"/>
<circle cx="318.2" cy="1706.9" r="4.6" fill="#000"/>
<circle cx="325.2" cy="1706.9" r="4.6" fill="#000"/>
<circle cx="331.8" cy="1706.9" r="4.6" fill="#000"/>
<rect x="351.8" y="1847.1" width="2.6" height="8.3" fill="#000"/>
<rect x="345.6" y="1845.7" width="15.0" height="2.8" fill="#000"/>
<rect x="345.6" y="1854.0" width="15.0" height="2.8" fill="#000"/>
<circle cx="345.1" cy="1846.2" r="4.6" fill="#000"/>
<circle cx="352.1" cy="1849.8" r="4.6" fill="#000"/>
<circle cx="358.1" cy="1853.2" r="4.6" fill="#000"/>
<circle cx="363.1" cy="1854.3" r="4.6" fill="#000"/>
<rect x="383.2" y="1711.4" width="2.6" height="49.1" fill="#000"/>
<rect x="377.1" y="1710.0" width="15.0" height="2.8" fill="#000"/>
<rect x="377.1" y="1759.1" width="15.0" height="2.8" fill="#000"/>
<circle cx="384.6" cy="1706.9" r="4.6" fill="#000"/>
<circle cx="384.6" cy="1729.2" r="4.6" fill="#000"/>
<circle cx="384.6" cy="1751.6" r="4.6" fill="#000"/>
<circle cx="384.6" cy="1760.5" r="4.6" fill="#000"/>
<circle cx="437.4" cy="1706.9" r="4.6" fill="#000"/>
<circle cx="443.9" cy="1706.9" r="4.6" fill="#000"/>
<circle cx="450.9" cy="1706.9" r="4.6" fill="#000"/>
<circle cx="457.4" cy="1706.9" r="4.6" fill="#000"/>
<rect x="477.5" y="1840.9" width="2.6" height="20.1" fill="#000"/>
<rect x="471.3" y="1839.5" width="15.0" height="2.8" fill="#000"/>
<rect x="471.3" y="1859.6" width="15.0" height="2.8" fill="#000"/>
<circle cx="478.8" cy="1836.4" r="4.6" fill="#000"/>
<circle cx="471.8" cy="1849.8" r="4.6" fill="#000"/>
<circle cx="480.8" cy="1852.0" r="4.6" fill="#000"/>
<circle cx="487.8" cy="1861.0" r="4.6" fill="#000"/>
<rect x="508.9" y="1679.0" width="2.6" height="65.0" fill="#000"/>
<rect x="502.7" y="1677.6" width="15.0" height="2.8" fill="#000"/>
<rect x="502.7" y="1742.6" width="15.0" height="2.8" fill="#000"/>
<circle cx="510.2" cy="1664.5" r="4.6" fill="#000"/>
<circle cx="500.2" cy="1723.4" r="4.6" fill="#000"/>
<circle cx="510.2" cy="1723.4" r="4.6" fill="#000"/>
<circle cx="520.2" cy="1736.8" r="4.6" fill="#000"/>
<circle cx="563.0" cy="1706.9" r="4.6" fill="#000"/>
<circle cx="569.5" cy="1706.9" r="4.6" fill="#000"/>
<circle cx="576.5" cy="1706.9" r="4.6" fill="#000"/>
<circle cx="583.0" cy="1706.9" r="4.6" fill="#000"/>
<rect x="603.2" y="1838.6" width="2.6" height="11.2" fill="#000"/>
<rect x="597.0" y="1837.2" width="15.0" height="2.8" fill="#000"/>
<rect x="597.0" y="1848.4" width="15.0" height="2.8" fill="#000"/>
<circle cx="596.5" cy="1836.4" r="4.6" fill="#000"/>
<circle cx="603.5" cy="1844.2" r="4.6" fill="#000"/>
<circle cx="609.5" cy="1846.5" r="4.6" fill="#000"/>
<circle cx="614.5" cy="1847.6" r="4.6" fill="#000"/>
<rect x="634.5" y="1680.1" width="2.6" height="82.6" fill="#000"/>
<rect x="628.3" y="1678.7" width="15.0" height="2.8" fill="#000"/>
<rect x="628.3" y="1761.3" width="15.0" height="2.8" fill="#000"/>
<circle cx="635.8" cy="1664.5" r="4.6" fill="#000"/>
<circle cx="635.8" cy="1720.3" r="4.6" fill="#000"/>
<circle cx="628.8" cy="1746.0" r="4.6" fill="#000"/>
<circle cx="643.8" cy="1756.0" r="4.6" fill="#000"/>
<rect x="162.5" y="1594.0" width="4.6" height="338.5" fill="#000"/>
<rect x="157.5" y="1927.9" width="511.5" height="4.6" fill="#000"/>
<rect x="157.5" y="1928.2" width="7.3" height="4.0" fill="#000"/>
<text x="154.2" y="1940.7" font-size="30.0" text-anchor="end">0.0</text>
<rect x="157.5" y="1816.5" width="7.3" height="4.0" fill="#000"/>
<text x="154.2" y="1829.0" font-size="30.0" text-anchor="end">0.5</text>
<rect x="157.5" y="1704.9" width="7.3" height="4.0" fill="#000"/>
<text x="154.2" y="1717.4" font-size="30.0" text-anchor="end">1.0</text>
<rect x="157.5" y="1593.2" width="7.3" height="4.0" fill="#000"/>
<text x="154.2" y="1605.8" font-size="30.0" text-anchor="end">1.5</text>
<rect x="225.3" y="1930.2" width="4.4" height="7.3" fill="#000"/>
<rect x="351.0" y="1930.2" width="4.4" height="7.3" fill="#000"/>
<rect x="476.6" y="1930.2" width="4.4" height="7.3" fill="#000"/>
<rect x="602.2" y="1930.2" width="4.4" height="7.3" fill="#000"/>
<text x="196.9" y="1966.3" font-size="30.0">ZOS</text>
<text x="305.6" y="1966.3" font-size="30.0">ZOS-M</text>
<text x="448.2" y="1966.3" font-size="30.0">ZOS</text>
<text x="556.9" y="1966.3" font-size="30.0">ZOS-M</text>
<rect x="215.5" y="1983.3" width="133.0" height="4.5" fill="#000"/>
<rect x="466.4" y="1983.3" width="134.9" height="4.5" fill="#000"/>
<text x="224.5" y="2018.9" font-size="29.0">migration</text>
<text x="484.9" y="2018.9" font-size="29.3">invasion</text>
<text transform="translate(101.6,1830.6) rotate(-90)" font-size="29.2">fold change</text>
<rect x="191.7" y="1645.8" width="76.4" height="4.4" fill="#000"/>
<rect x="313.8" y="1646.2" width="77.2" height="4.4" fill="#000"/>
<rect x="436.0" y="1640.4" width="76.7" height="4.4" fill="#000"/>
<rect x="573.3" y="1645.4" width="77.0" height="4.4" fill="#000"/>
<rect x="184.4" y="1690.0" width="58.5" height="4.4" fill="#000"/>
<rect x="307.0" y="1690.8" width="58.5" height="4.4" fill="#000"/>
<rect x="428.6" y="1684.9" width="58.2" height="4.4" fill="#000"/>
<rect x="558.0" y="1682.5" width="59.0" height="4.4" fill="#000"/>
<text x="193.0" y="1636.5" font-size="20.3"><tspan font-style="italic">P</tspan>=0.075</text>
<text x="309.4" y="1637.5" font-size="20.3"><tspan font-style="italic">P</tspan>=0.0995</text>
<text x="437.3" y="1631.8" font-size="20.3"><tspan font-style="italic">P</tspan>=0.828</text>
<text x="569.4" y="1636.6" font-size="20.3"><tspan font-style="italic">P</tspan>=0.5523</text>
<text x="171.4" y="1680.8" font-size="19.7"><tspan font-style="italic">P=0.0003</tspan></text>
<text x="293.4" y="1681.0" font-size="19.7"><tspan font-style="italic">P&lt;0.0001</tspan></text>
<text x="415.7" y="1675.7" font-size="19.7"><tspan font-style="italic">P&lt;0.0001</tspan></text>
<text x="545.4" y="1673.0" font-size="19.7"><tspan font-style="italic">P&lt;0.0001</tspan></text>
<text x="795.3" y="1451.7" font-size="40.0">h</text>
<ellipse cx="899.6" cy="1552.5" rx="15.7" ry="12.5" fill="#0000cc"/>
<ellipse cx="922.2" cy="1538.7" rx="14.8" ry="12.5" fill="#0000cc"/>
<ellipse cx="951.7" cy="1536.3" rx="15.2" ry="12.2" fill="#0000cc"/>
<ellipse cx="939.7" cy="1561.3" rx="15.2" ry="12.2" fill="#0000cc"/>
<ellipse cx="919.0" cy="1573.8" rx="15.7" ry="12.5" fill="#0000cc"/>
<ellipse cx="901.1" cy="1552.5" rx="7.4" ry="5.3" fill="#c8dcf2"/>
<ellipse cx="923.7" cy="1538.7" rx="7.4" ry="5.3" fill="#c8dcf2"/>
<ellipse cx="953.2" cy="1536.3" rx="7.4" ry="5.3" fill="#c8dcf2"/>
<ellipse cx="941.2" cy="1561.3" rx="7.4" ry="5.3" fill="#c8dcf2"/>
<ellipse cx="920.5" cy="1573.8" rx="7.4" ry="5.3" fill="#c8dcf2"/>
<line x1="969.8" y1="1554.8" x2="1007.8" y2="1554.8" stroke="#000" stroke-width="2.2"/>
<polygon points="1023.3,1554.8 1006.8,1561.3 1006.8,1548.3" fill="#000"/>
<line x1="1155.1" y1="1554.8" x2="1193.0" y2="1554.8" stroke="#000" stroke-width="2.2"/>
<polygon points="1208.5,1554.8 1192.0,1560.8 1192.0,1548.8" fill="#000"/>
<path d="M1107.0,1500.4 C1108.0,1500.8 1109.7,1502.3 1110.7,1503.8 C1111.8,1505.2 1112.7,1507.2 1113.3,1509.0 C1114.0,1510.8 1114.2,1513.2 1114.5,1514.6 C1114.7,1516.0 1114.3,1517.2 1114.8,1517.4 C1115.4,1517.6 1116.7,1516.0 1117.8,1515.9 C1118.9,1515.8 1120.6,1515.9 1121.3,1516.7 C1122.0,1517.4 1122.1,1519.1 1121.9,1520.2 C1121.7,1521.2 1120.5,1522.0 1120.3,1523.1 C1120.0,1524.3 1121.4,1526.7 1120.6,1527.2 C1119.7,1527.8 1115.5,1526.3 1115.2,1526.3 C1114.9,1526.4 1117.1,1527.7 1118.9,1527.6 C1120.8,1527.5 1124.3,1526.8 1126.4,1525.6 C1128.4,1524.4 1129.9,1521.7 1131.2,1520.5 C1132.5,1519.3 1133.1,1518.4 1134.0,1518.3 C1134.8,1518.1 1136.1,1518.8 1136.4,1519.6 C1136.7,1520.5 1136.9,1521.8 1135.7,1523.4 C1134.5,1524.9 1131.6,1526.9 1129.4,1528.9 C1127.1,1530.8 1123.9,1532.8 1121.9,1535.0 C1119.9,1537.3 1118.3,1539.8 1117.4,1542.1 C1116.6,1544.4 1116.5,1546.2 1116.7,1548.8 C1116.9,1551.4 1117.7,1554.5 1118.6,1557.8 C1119.4,1561.0 1121.0,1565.1 1121.9,1568.2 C1122.8,1571.3 1122.9,1573.9 1123.8,1576.4 C1124.6,1578.9 1125.9,1581.1 1127.1,1583.1 C1128.4,1585.1 1130.2,1586.4 1131.2,1588.3 C1132.2,1590.1 1132.5,1592.6 1133.1,1594.2 C1133.6,1595.9 1133.6,1597.4 1134.6,1598.3 C1135.6,1599.2 1137.5,1599.6 1139.0,1599.6 C1140.5,1599.6 1142.0,1598.0 1143.6,1598.1 C1145.3,1598.2 1147.7,1599.1 1148.7,1600.1 C1149.7,1601.0 1150.1,1602.9 1149.6,1603.8 C1149.1,1604.7 1147.1,1605.4 1145.7,1605.6 C1144.4,1605.7 1143.2,1605.2 1141.6,1604.7 C1140.1,1604.1 1138.0,1603.2 1136.4,1602.3 C1134.8,1601.4 1133.2,1600.4 1132.0,1599.5 C1130.7,1598.5 1131.0,1597.6 1129.0,1596.6 C1127.0,1595.7 1122.6,1594.1 1119.8,1593.8 C1117.0,1593.5 1114.2,1593.8 1112.4,1594.8 C1110.6,1595.8 1109.8,1597.6 1109.0,1599.7 C1108.2,1601.8 1108.3,1605.5 1107.5,1607.6 C1106.7,1609.7 1105.8,1610.9 1104.0,1612.5 C1102.2,1614.1 1100.0,1615.8 1096.7,1617.4 C1093.4,1619.0 1088.8,1620.4 1084.3,1621.9 C1079.8,1623.4 1074.1,1624.7 1069.6,1626.3 C1065.1,1627.8 1060.7,1629.2 1057.2,1631.2 C1053.8,1633.2 1051.1,1635.1 1048.9,1638.1 C1046.7,1641.1 1045.0,1647.6 1044.1,1649.3 C1043.2,1651.1 1043.0,1650.4 1043.6,1648.5 C1044.1,1646.5 1045.1,1640.8 1047.4,1637.6 C1049.7,1634.4 1053.5,1631.6 1057.2,1629.3 C1060.9,1627.0 1065.1,1625.5 1069.6,1623.8 C1074.1,1622.1 1080.2,1620.4 1084.3,1618.9 C1088.4,1617.3 1091.2,1616.2 1094.2,1614.5 C1097.2,1612.8 1100.5,1610.7 1102.1,1608.6 C1103.7,1606.6 1103.8,1604.2 1104.0,1602.2 C1104.2,1600.1 1104.3,1597.9 1103.1,1596.3 C1101.9,1594.7 1099.0,1593.2 1096.7,1592.6 C1094.4,1592.0 1091.3,1592.3 1089.3,1592.6 C1087.3,1592.9 1085.7,1593.8 1084.7,1594.6 C1083.6,1595.4 1083.8,1596.6 1083.0,1597.6 C1082.3,1598.6 1081.3,1599.7 1080.2,1600.6 C1079.1,1601.4 1078.0,1602.1 1076.5,1602.8 C1075.0,1603.5 1072.8,1604.4 1071.3,1604.5 C1069.8,1604.7 1068.3,1604.4 1067.4,1603.8 C1066.5,1603.2 1065.5,1601.8 1065.7,1600.9 C1065.8,1600.1 1067.2,1599.3 1068.3,1598.9 C1069.3,1598.5 1070.8,1598.5 1072.0,1598.6 C1073.2,1598.6 1074.1,1599.6 1075.4,1599.5 C1076.7,1599.3 1078.8,1598.6 1079.8,1597.8 C1080.9,1597.1 1081.4,1596.1 1081.8,1595.0 C1082.3,1593.8 1081.9,1592.3 1082.3,1590.9 C1082.7,1589.5 1083.2,1588.2 1084.3,1586.4 C1085.4,1584.6 1087.5,1582.1 1088.8,1580.1 C1090.0,1578.0 1091.0,1576.5 1091.7,1574.1 C1092.5,1571.8 1092.7,1568.8 1093.0,1565.9 C1093.4,1563.1 1093.4,1560.2 1093.8,1557.0 C1094.1,1553.8 1095.0,1549.3 1095.0,1547.0 C1094.9,1544.6 1094.6,1544.2 1093.5,1542.7 C1092.4,1541.2 1090.1,1539.4 1088.4,1537.8 C1086.7,1536.2 1084.8,1534.7 1083.0,1533.3 C1081.3,1532.0 1079.6,1530.8 1078.1,1529.8 C1076.7,1528.9 1075.1,1528.5 1074.3,1527.6 C1073.4,1526.7 1073.0,1525.3 1073.1,1524.4 C1073.3,1523.5 1074.3,1522.3 1075.1,1522.2 C1076.0,1522.1 1077.1,1523.0 1078.3,1523.9 C1079.6,1524.8 1081.3,1526.5 1082.8,1527.6 C1084.4,1528.7 1086.1,1530.0 1087.7,1530.4 C1089.2,1530.7 1090.6,1530.3 1092.1,1529.5 C1093.6,1528.7 1096.7,1526.0 1096.7,1525.6 C1096.8,1525.2 1093.6,1527.2 1092.5,1527.2 C1091.4,1527.2 1090.3,1526.6 1090.0,1525.6 C1089.8,1524.6 1090.2,1522.6 1090.9,1521.3 C1091.5,1520.0 1092.7,1518.4 1093.8,1517.7 C1094.9,1517.0 1096.5,1517.3 1097.5,1516.8 C1098.5,1516.3 1099.1,1515.7 1099.6,1514.7 C1100.1,1513.7 1099.9,1512.3 1100.5,1510.7 C1101.0,1509.1 1102.0,1506.5 1102.7,1504.9 C1103.4,1503.3 1103.9,1502.1 1104.6,1501.3 C1105.4,1500.6 1106.0,1500.0 1107.0,1500.4Z" fill="#fff" stroke="#111" stroke-width="2.3" stroke-linejoin="round"/>
<path d="M1278.3,1498.1 C1279.3,1498.5 1281.0,1500.0 1282.0,1501.5 C1283.1,1502.9 1284.0,1504.9 1284.6,1506.7 C1285.3,1508.5 1285.5,1510.9 1285.8,1512.3 C1286.0,1513.7 1285.6,1514.9 1286.1,1515.1 C1286.7,1515.3 1288.0,1513.7 1289.1,1513.6 C1290.2,1513.5 1291.9,1513.6 1292.6,1514.4 C1293.3,1515.1 1293.4,1516.8 1293.2,1517.9 C1293.0,1518.9 1291.8,1519.7 1291.6,1520.8 C1291.3,1522.0 1292.7,1524.4 1291.9,1524.9 C1291.0,1525.5 1286.8,1524.0 1286.5,1524.0 C1286.2,1524.1 1288.4,1525.4 1290.2,1525.3 C1292.1,1525.2 1295.6,1524.5 1297.7,1523.3 C1299.7,1522.1 1301.2,1519.4 1302.5,1518.2 C1303.8,1517.0 1304.4,1516.1 1305.3,1516.0 C1306.1,1515.8 1307.4,1516.5 1307.7,1517.3 C1308.0,1518.2 1308.2,1519.5 1307.0,1521.1 C1305.8,1522.6 1302.9,1524.6 1300.7,1526.6 C1298.4,1528.5 1295.2,1530.5 1293.2,1532.7 C1291.2,1535.0 1289.6,1537.5 1288.7,1539.8 C1287.9,1542.1 1287.8,1543.9 1288.0,1546.5 C1288.2,1549.1 1289.0,1552.2 1289.9,1555.5 C1290.7,1558.7 1292.3,1562.8 1293.2,1565.9 C1294.1,1569.0 1294.2,1571.6 1295.1,1574.1 C1295.9,1576.6 1297.2,1578.8 1298.4,1580.8 C1299.7,1582.8 1301.5,1584.1 1302.5,1586.0 C1303.5,1587.8 1303.8,1590.3 1304.4,1591.9 C1304.9,1593.6 1304.9,1595.1 1305.9,1596.0 C1306.9,1596.9 1308.8,1597.3 1310.3,1597.3 C1311.8,1597.3 1313.3,1595.7 1314.9,1595.8 C1316.6,1595.9 1319.0,1596.8 1320.0,1597.8 C1321.0,1598.7 1321.4,1600.6 1320.9,1601.5 C1320.4,1602.4 1318.4,1603.1 1317.0,1603.3 C1315.7,1603.4 1314.5,1602.9 1312.9,1602.4 C1311.4,1601.8 1309.3,1600.9 1307.7,1600.0 C1306.1,1599.1 1304.5,1598.1 1303.3,1597.2 C1302.0,1596.2 1302.3,1595.3 1300.3,1594.3 C1298.3,1593.4 1293.9,1591.8 1291.1,1591.5 C1288.3,1591.2 1285.5,1591.5 1283.7,1592.5 C1281.9,1593.5 1281.1,1595.3 1280.3,1597.4 C1279.5,1599.5 1279.6,1603.2 1278.8,1605.3 C1278.0,1607.4 1277.1,1608.6 1275.3,1610.2 C1273.5,1611.8 1271.3,1613.5 1268.0,1615.1 C1264.7,1616.7 1260.1,1618.1 1255.6,1619.6 C1251.1,1621.1 1245.4,1622.4 1240.9,1624.0 C1236.4,1625.5 1232.0,1626.9 1228.5,1628.9 C1225.1,1630.9 1222.4,1632.8 1220.2,1635.8 C1218.0,1638.8 1216.3,1645.3 1215.4,1647.0 C1214.5,1648.8 1214.3,1648.1 1214.9,1646.2 C1215.4,1644.2 1216.4,1638.5 1218.7,1635.3 C1221.0,1632.1 1224.8,1629.3 1228.5,1627.0 C1232.2,1624.7 1236.4,1623.2 1240.9,1621.5 C1245.4,1619.8 1251.5,1618.1 1255.6,1616.6 C1259.7,1615.0 1262.5,1613.9 1265.5,1612.2 C1268.5,1610.5 1271.8,1608.4 1273.4,1606.3 C1275.0,1604.3 1275.1,1601.9 1275.3,1599.9 C1275.5,1597.8 1275.6,1595.6 1274.4,1594.0 C1273.2,1592.4 1270.3,1590.9 1268.0,1590.3 C1265.7,1589.7 1262.6,1590.0 1260.6,1590.3 C1258.6,1590.6 1257.0,1591.5 1256.0,1592.3 C1254.9,1593.1 1255.1,1594.3 1254.3,1595.3 C1253.6,1596.3 1252.6,1597.4 1251.5,1598.3 C1250.4,1599.1 1249.3,1599.8 1247.8,1600.5 C1246.3,1601.2 1244.1,1602.1 1242.6,1602.2 C1241.1,1602.4 1239.6,1602.1 1238.7,1601.5 C1237.8,1600.9 1236.8,1599.5 1237.0,1598.6 C1237.1,1597.8 1238.5,1597.0 1239.6,1596.6 C1240.6,1596.2 1242.1,1596.2 1243.3,1596.3 C1244.5,1596.3 1245.4,1597.3 1246.7,1597.2 C1248.0,1597.0 1250.1,1596.3 1251.1,1595.5 C1252.2,1594.8 1252.7,1593.8 1253.1,1592.7 C1253.6,1591.5 1253.2,1590.0 1253.6,1588.6 C1254.0,1587.2 1254.5,1585.9 1255.6,1584.1 C1256.7,1582.3 1258.8,1579.8 1260.1,1577.8 C1261.3,1575.7 1262.3,1574.2 1263.0,1571.8 C1263.8,1569.5 1264.0,1566.5 1264.3,1563.6 C1264.7,1560.8 1264.7,1557.9 1265.1,1554.7 C1265.4,1551.5 1266.3,1547.0 1266.3,1544.7 C1266.2,1542.3 1265.9,1541.9 1264.8,1540.4 C1263.7,1538.9 1261.4,1537.1 1259.7,1535.5 C1258.0,1533.9 1256.1,1532.4 1254.3,1531.0 C1252.6,1529.7 1250.9,1528.5 1249.4,1527.5 C1248.0,1526.6 1246.4,1526.2 1245.6,1525.3 C1244.7,1524.4 1244.3,1523.0 1244.4,1522.1 C1244.6,1521.2 1245.6,1520.0 1246.4,1519.9 C1247.3,1519.8 1248.4,1520.7 1249.6,1521.6 C1250.9,1522.5 1252.6,1524.2 1254.1,1525.3 C1255.7,1526.4 1257.4,1527.7 1259.0,1528.1 C1260.5,1528.4 1261.9,1528.0 1263.4,1527.2 C1264.9,1526.4 1268.0,1523.7 1268.0,1523.3 C1268.1,1522.9 1264.9,1524.9 1263.8,1524.9 C1262.7,1524.9 1261.6,1524.3 1261.3,1523.3 C1261.1,1522.3 1261.5,1520.3 1262.2,1519.0 C1262.8,1517.7 1264.0,1516.1 1265.1,1515.4 C1266.2,1514.7 1267.8,1515.0 1268.8,1514.5 C1269.8,1514.0 1270.4,1513.4 1270.9,1512.4 C1271.4,1511.4 1271.2,1510.0 1271.8,1508.4 C1272.3,1506.8 1273.3,1504.2 1274.0,1502.6 C1274.7,1501.0 1275.2,1499.8 1275.9,1499.0 C1276.7,1498.3 1277.3,1497.7 1278.3,1498.1Z" fill="#fff" stroke="#111" stroke-width="2.3" stroke-linejoin="round"/>
<g transform="translate(1032.6,1546.5) rotate(43.4)" stroke="#9a9a9a" fill="none" stroke-width="1.6"><rect x="0" y="-3.6" width="44" height="7.2" fill="#f4f4f4"/><line x1="-7" y1="0" x2="0" y2="0"/><line x1="-7" y1="-6" x2="-7" y2="6"/><line x1="-1" y1="-6.5" x2="-1" y2="6.5"/><line x1="8" y1="-3.6" x2="8" y2="0"/><line x1="14" y1="-3.6" x2="14" y2="0"/><line x1="20" y1="-3.6" x2="20" y2="0"/><line x1="26" y1="-3.6" x2="26" y2="0"/><line x1="32" y1="-3.6" x2="32" y2="0"/><line x1="38" y1="-3.6" x2="38" y2="0"/><path d="M44,-3.6 L50,0 L44,3.6"/></g>
<path d="M1068.5,1581 Q1075,1587 1076.5,1594" stroke="#9a9a9a" stroke-width="1.4" fill="none"/>
<ellipse cx="1260.8" cy="1586.8" rx="7.4" ry="9.3" fill="#f04a4a"/>
<line x1="1332.6" y1="1546.1" x2="1371.0" y2="1524.1" stroke="#000" stroke-width="2.2"/>
<polygon points="1384.0,1516.6 1373.2,1529.9 1367.0,1519.2" fill="#000"/>
<line x1="1333.2" y1="1556.0" x2="1370.9" y2="1580.0" stroke="#000" stroke-width="2.2"/>
<polygon points="1383.6,1588.0 1366.8,1584.7 1373.4,1574.2" fill="#000"/>
<line x1="1483.0" y1="1588.5" x2="1522.5" y2="1565.9" stroke="#000" stroke-width="1.8"/>
<polygon points="1534.7,1559.0 1524.6,1571.6 1518.7,1561.2" fill="#000"/>
<line x1="1483.4" y1="1594.7" x2="1522.6" y2="1617.2" stroke="#000" stroke-width="1.8"/>
<polygon points="1534.7,1624.2 1518.7,1621.9 1524.7,1611.5" fill="#000"/>
<text x="1399.7" y="1520.8" font-size="20.4">untreated</text>
<text x="1403.0" y="1595.9" font-size="20.4">Peptide</text>
<text x="1542.6" y="1566.8" font-size="20.3">WT-iRGD  i.v.</text>
<text x="1542.2" y="1630.9" font-size="20.3">DD-iRGD  i.v.</text>
<text x="1028.6" y="1677.9" font-size="20.2">Tumor cell orth.</text>
<text x="1212.9" y="1677.9" font-size="20.4">Peptide i.v.</text>
<path d="M1091.1,1692 L1091.1,1729 L1132.5,1729 L1132.5,1745" fill="none" stroke="#000" stroke-width="3.5" stroke-linejoin="miter"/>
<polygon points="1124.1,1742.5 1140.9,1742.5 1132.5,1765" fill="#000"/>
<path d="M1246.6,1691.3 L1246.6,1729 L1202.4,1729 L1202.4,1746" fill="none" stroke="#000" stroke-width="3.5" stroke-linejoin="miter"/>
<polygon points="1194,1743.7 1210.8,1743.7 1202.4,1766.4" fill="#000"/>
<path d="M1132.5,1779.5 L1132.5,1790 L1203.5,1790 L1203.5,1779.5" fill="none" stroke="#000" stroke-width="3.4"/>
<line x1="1205.5" y1="1790.0" x2="1545.0" y2="1790.0" stroke="#000" stroke-width="3.4" stroke-dasharray="8.6,11.9"/>
<polygon points="1544,1783.2 1544,1796.8 1567,1790" fill="#000"/>
<rect x="1459.6" y="1770.0" width="3.2" height="15.6" fill="#000"/>
<text x="1576.4" y="1796.0" font-size="20.4">143B</text>
<text x="1127.7" y="1814.3" font-size="20.4">0</text>
<text x="1186.2" y="1812.5" font-size="20.4">10</text>
<text x="1449.9" y="1812.5" font-size="20.4">38</text>
<line x1="1133.7" y1="1824.5" x2="1133.7" y2="1840.0" stroke="#000" stroke-width="2.0"/>
<polygon points="1127.6,1837 1139.8,1837 1133.7,1857" fill="#000"/>
<line x1="1277.8" y1="1824.5" x2="1277.8" y2="1840.0" stroke="#000" stroke-width="2.0"/>
<polygon points="1271.7,1837 1283.9,1837 1277.8,1857" fill="#000"/>
<path d="M1133.2,1860.7 L1133.2,1871.8 L1277.8,1871.8 L1277.8,1862" fill="none" stroke="#000" stroke-width="3.4"/>
<line x1="1281.0" y1="1871.8" x2="1680.0" y2="1871.8" stroke="#000" stroke-width="3.4" stroke-dasharray="8.6,11.9"/>
<polygon points="1679.8,1865 1679.8,1878.6 1702,1871.8" fill="#000"/>
<rect x="1636.6" y="1857.0" width="3.2" height="11.0" fill="#000"/>
<text x="1705.4" y="1879.2" font-size="20.4">ZOS-M</text>
<text x="1127.7" y="1896.5" font-size="20.4">0</text>
<text x="1267.0" y="1896.3" font-size="20.4">20</text>
<text x="1625.4" y="1896.3" font-size="20.4">48</text>
<text x="1283.6" y="1921.6" font-size="20.3">Days after cell inoculation</text>
<text x="-1.3" y="2148.8" font-size="40.0">i</text>
<text x="284.0" y="2133.5" font-size="30.2">143B</text>
<rect x="170.0" y="2335.5" width="29.2" height="153.5" fill="#d3d3d3"/>
<rect x="229.3" y="2269.2" width="29.2" height="219.8" fill="#ff0000"/>
<rect x="288.3" y="2336.3" width="29.2" height="152.7" fill="#c6c230"/>
<rect x="347.5" y="2328.3" width="29.2" height="160.7" fill="#047f04"/>
<rect x="407.4" y="2272.8" width="29.2" height="216.2" fill="#5858ff"/>
<rect x="466.6" y="2270.9" width="29.2" height="218.1" fill="#b400c8"/>
<rect x="183.3" y="2327.6" width="2.6" height="15.8" fill="#000"/>
<rect x="177.1" y="2326.2" width="15.0" height="2.8" fill="#000"/>
<rect x="177.1" y="2341.9" width="15.0" height="2.8" fill="#000"/>
<circle cx="174.6" cy="2330.4" r="5.8" fill="#000"/>
<circle cx="180.6" cy="2329.6" r="5.8" fill="#000"/>
<circle cx="188.6" cy="2328.8" r="5.8" fill="#000"/>
<circle cx="194.6" cy="2329.6" r="5.8" fill="#000"/>
<circle cx="178.6" cy="2339.7" r="5.8" fill="#000"/>
<circle cx="183.6" cy="2347.2" r="5.8" fill="#000"/>
<circle cx="189.6" cy="2347.2" r="5.8" fill="#000"/>
<circle cx="184.6" cy="2333.8" r="5.8" fill="#000"/>
<rect x="242.6" y="2252.8" width="2.6" height="32.7" fill="#000"/>
<rect x="236.4" y="2251.4" width="15.0" height="2.8" fill="#000"/>
<rect x="236.4" y="2284.2" width="15.0" height="2.8" fill="#000"/>
<circle cx="233.9" cy="2255.8" r="5.8" fill="#000"/>
<circle cx="243.9" cy="2249.0" r="5.8" fill="#000"/>
<circle cx="253.9" cy="2253.2" r="5.8" fill="#000"/>
<circle cx="237.9" cy="2262.5" r="5.8" fill="#000"/>
<circle cx="246.9" cy="2270.9" r="5.8" fill="#000"/>
<circle cx="249.9" cy="2276.7" r="5.8" fill="#000"/>
<circle cx="240.9" cy="2287.6" r="5.8" fill="#000"/>
<circle cx="243.9" cy="2296.9" r="5.8" fill="#000"/>
<circle cx="251.9" cy="2279.2" r="5.8" fill="#000"/>
<rect x="301.6" y="2332.7" width="2.6" height="7.3" fill="#000"/>
<rect x="295.4" y="2331.3" width="15.0" height="2.8" fill="#000"/>
<rect x="295.4" y="2338.5" width="15.0" height="2.8" fill="#000"/>
<circle cx="292.9" cy="2329.6" r="5.8" fill="#000"/>
<circle cx="299.9" cy="2322.9" r="5.8" fill="#000"/>
<circle cx="306.9" cy="2329.6" r="5.8" fill="#000"/>
<circle cx="313.9" cy="2332.9" r="5.8" fill="#000"/>
<circle cx="296.9" cy="2331.3" r="5.8" fill="#000"/>
<circle cx="309.9" cy="2333.8" r="5.8" fill="#000"/>
<circle cx="302.9" cy="2327.9" r="5.8" fill="#000"/>
<rect x="360.8" y="2323.8" width="2.6" height="9.0" fill="#000"/>
<rect x="354.6" y="2322.4" width="15.0" height="2.8" fill="#000"/>
<rect x="354.6" y="2331.4" width="15.0" height="2.8" fill="#000"/>
<circle cx="352.1" cy="2329.6" r="5.8" fill="#000"/>
<circle cx="359.1" cy="2327.1" r="5.8" fill="#000"/>
<circle cx="368.1" cy="2324.6" r="5.8" fill="#000"/>
<circle cx="373.1" cy="2338.0" r="5.8" fill="#000"/>
<circle cx="357.1" cy="2332.9" r="5.8" fill="#000"/>
<circle cx="366.1" cy="2336.3" r="5.8" fill="#000"/>
<circle cx="362.1" cy="2331.3" r="5.8" fill="#000"/>
<circle cx="371.1" cy="2329.6" r="5.8" fill="#000"/>
<rect x="420.7" y="2256.8" width="2.6" height="31.9" fill="#000"/>
<rect x="414.5" y="2255.4" width="15.0" height="2.8" fill="#000"/>
<rect x="414.5" y="2287.3" width="15.0" height="2.8" fill="#000"/>
<circle cx="413.0" cy="2268.3" r="5.8" fill="#000"/>
<circle cx="422.0" cy="2251.6" r="5.8" fill="#000"/>
<circle cx="431.0" cy="2265.0" r="5.8" fill="#000"/>
<circle cx="416.0" cy="2269.2" r="5.8" fill="#000"/>
<circle cx="427.0" cy="2275.1" r="5.8" fill="#000"/>
<circle cx="422.0" cy="2305.3" r="5.8" fill="#000"/>
<circle cx="419.0" cy="2279.2" r="5.8" fill="#000"/>
<circle cx="426.0" cy="2260.8" r="5.8" fill="#000"/>
<rect x="479.9" y="2255.7" width="2.6" height="30.3" fill="#000"/>
<rect x="473.7" y="2254.3" width="15.0" height="2.8" fill="#000"/>
<rect x="473.7" y="2284.6" width="15.0" height="2.8" fill="#000"/>
<circle cx="472.2" cy="2265.0" r="5.8" fill="#000"/>
<circle cx="481.2" cy="2249.0" r="5.8" fill="#000"/>
<circle cx="489.2" cy="2258.3" r="5.8" fill="#000"/>
<circle cx="474.2" cy="2277.6" r="5.8" fill="#000"/>
<circle cx="490.2" cy="2280.9" r="5.8" fill="#000"/>
<circle cx="481.2" cy="2297.7" r="5.8" fill="#000"/>
<circle cx="478.2" cy="2270.9" r="5.8" fill="#000"/>
<circle cx="485.2" cy="2262.5" r="5.8" fill="#000"/>
<rect x="152.4" y="2150.9" width="5.2" height="340.6" fill="#000"/>
<rect x="147.0" y="2486.4" width="366.5" height="5.2" fill="#000"/>
<rect x="147.0" y="2486.8" width="8.0" height="4.5" fill="#000"/>
<text x="145.2" y="2499.5" font-size="30.0" text-anchor="end">0.0</text>
<rect x="147.0" y="2402.8" width="8.0" height="4.5" fill="#000"/>
<text x="145.5" y="2415.6" font-size="30.0" text-anchor="end">0.1</text>
<rect x="147.0" y="2318.9" width="8.0" height="4.5" fill="#000"/>
<text x="145.5" y="2331.7" font-size="30.0" text-anchor="end">0.2</text>
<rect x="147.0" y="2235.1" width="8.0" height="4.5" fill="#000"/>
<text x="145.5" y="2247.8" font-size="30.0" text-anchor="end">0.3</text>
<rect x="147.0" y="2151.2" width="8.0" height="4.5" fill="#000"/>
<text x="144.9" y="2163.9" font-size="30.0" text-anchor="end">0.4</text>
<rect x="182.1" y="2489.0" width="5.0" height="7.5" fill="#000"/>
<rect x="241.4" y="2489.0" width="5.0" height="7.5" fill="#000"/>
<rect x="300.4" y="2489.0" width="5.0" height="7.5" fill="#000"/>
<rect x="359.6" y="2489.0" width="5.0" height="7.5" fill="#000"/>
<rect x="419.5" y="2489.0" width="5.0" height="7.5" fill="#000"/>
<rect x="478.7" y="2489.0" width="5.0" height="7.5" fill="#000"/>
<text transform="translate(137.4,2584.9) rotate(-45)" font-size="29.3">Vector</text>
<text transform="translate(103.8,2675.5) rotate(-45)" font-size="29.3">RAB22A-NeoF1</text>
<text transform="translate(244.5,2594.5) rotate(-45)" font-size="29.3">1mg/kg</text>
<text transform="translate(294.0,2606.5) rotate(-45)" font-size="29.3">10mg/kg</text>
<text transform="translate(363.7,2594.5) rotate(-45)" font-size="29.3">1mg/kg</text>
<text transform="translate(411.8,2606.5) rotate(-45)" font-size="29.3">10mg/kg</text>
<rect x="220.3" y="2611.8" width="85.9" height="4.5" fill="#000"/>
<rect x="348.2" y="2611.8" width="86.2" height="4.5" fill="#000"/>
<rect x="230.4" y="2668.8" width="199.1" height="4.5" fill="#000"/>
<text x="189.7" y="2653.9" font-size="30.6">WT-iRGD</text>
<text x="341.8" y="2653.9" font-size="30.3">DD-iRGD</text>
<text x="228.1" y="2709.5" font-size="29.2">RAB22A-NeoF1</text>
<text transform="translate(92.2,2431.5) rotate(-90)" font-size="29.4">lung wet weight(g)</text>
<text transform="translate(245.1,2237.5) rotate(-90)" font-size="22.4"><tspan font-style="italic">p</tspan>&lt;0.0001</text>
<text transform="translate(304.2,2315.2) rotate(-90)" font-size="22.4"><tspan font-style="italic">p</tspan>=0.0635</text>
<text transform="translate(359.5,2322.9) rotate(-90)" font-size="22.4"><tspan font-style="italic">p</tspan>=0.00769</text>
<text transform="translate(422.5,2248.4) rotate(-90)" font-size="22.4"><tspan font-style="italic">p</tspan>&lt;0.0001</text>
<text transform="translate(485.5,2236.9) rotate(-90)" font-size="22.4"><tspan font-style="italic">p</tspan>&lt;0.0001</text>
<text x="1434.0" y="2149.6" font-size="40.0">k</text>
<rect x="1605.2" y="2258.5" width="33.8" height="234.6" fill="#ff0000"/>
<rect x="1672.6" y="2291.3" width="33.8" height="201.8" fill="#0404bc"/>
<rect x="1740.8" y="2289.5" width="33.8" height="203.6" fill="#047f04"/>
<rect x="1808.1" y="2259.4" width="33.8" height="233.7" fill="#646464"/>
<rect x="1875.5" y="2262.4" width="33.8" height="230.7" fill="#8c8cf8"/>
<rect x="1620.8" y="2244.0" width="2.6" height="29.0" fill="#000"/>
<rect x="1613.9" y="2242.6" width="16.5" height="2.8" fill="#000"/>
<rect x="1613.9" y="2271.6" width="16.5" height="2.8" fill="#000"/>
<circle cx="1622.1" cy="2238.9" r="5.8" fill="#000"/>
<circle cx="1622.1" cy="2250.1" r="5.8" fill="#000"/>
<circle cx="1616.1" cy="2256.8" r="5.8" fill="#000"/>
<circle cx="1628.1" cy="2259.0" r="5.8" fill="#000"/>
<circle cx="1622.1" cy="2270.2" r="5.8" fill="#000"/>
<circle cx="1622.1" cy="2280.3" r="5.8" fill="#000"/>
<circle cx="1625.1" cy="2253.4" r="5.8" fill="#000"/>
<rect x="1688.2" y="2280.3" width="2.6" height="25.8" fill="#000"/>
<rect x="1681.2" y="2278.9" width="16.5" height="2.8" fill="#000"/>
<rect x="1681.2" y="2304.7" width="16.5" height="2.8" fill="#000"/>
<circle cx="1689.5" cy="2275.8" r="5.8" fill="#000"/>
<circle cx="1674.5" cy="2291.5" r="5.8" fill="#000"/>
<circle cx="1684.5" cy="2291.5" r="5.8" fill="#000"/>
<circle cx="1694.5" cy="2291.5" r="5.8" fill="#000"/>
<circle cx="1704.5" cy="2291.5" r="5.8" fill="#000"/>
<circle cx="1689.5" cy="2316.1" r="5.8" fill="#000"/>
<rect x="1756.4" y="2275.8" width="2.6" height="29.1" fill="#000"/>
<rect x="1749.5" y="2274.4" width="16.5" height="2.8" fill="#000"/>
<rect x="1749.5" y="2303.5" width="16.5" height="2.8" fill="#000"/>
<circle cx="1757.7" cy="2270.2" r="5.8" fill="#000"/>
<circle cx="1753.7" cy="2279.2" r="5.8" fill="#000"/>
<circle cx="1761.7" cy="2285.9" r="5.8" fill="#000"/>
<circle cx="1753.7" cy="2293.7" r="5.8" fill="#000"/>
<circle cx="1757.7" cy="2302.7" r="5.8" fill="#000"/>
<circle cx="1761.7" cy="2304.9" r="5.8" fill="#000"/>
<rect x="1823.7" y="2250.1" width="2.6" height="16.8" fill="#000"/>
<rect x="1816.8" y="2248.7" width="16.5" height="2.8" fill="#000"/>
<rect x="1816.8" y="2265.5" width="16.5" height="2.8" fill="#000"/>
<circle cx="1825.0" cy="2247.8" r="5.8" fill="#000"/>
<circle cx="1812.0" cy="2256.8" r="5.8" fill="#000"/>
<circle cx="1821.0" cy="2256.8" r="5.8" fill="#000"/>
<circle cx="1830.0" cy="2256.8" r="5.8" fill="#000"/>
<circle cx="1839.0" cy="2256.8" r="5.8" fill="#000"/>
<circle cx="1825.0" cy="2259.0" r="5.8" fill="#000"/>
<circle cx="1825.0" cy="2272.5" r="5.8" fill="#000"/>
<rect x="1891.1" y="2244.5" width="2.6" height="35.8" fill="#000"/>
<rect x="1884.2" y="2243.1" width="16.5" height="2.8" fill="#000"/>
<rect x="1884.2" y="2278.9" width="16.5" height="2.8" fill="#000"/>
<circle cx="1892.4" cy="2238.9" r="5.8" fill="#000"/>
<circle cx="1892.4" cy="2251.2" r="5.8" fill="#000"/>
<circle cx="1896.4" cy="2261.3" r="5.8" fill="#000"/>
<circle cx="1892.4" cy="2279.2" r="5.8" fill="#000"/>
<circle cx="1892.4" cy="2288.1" r="5.8" fill="#000"/>
<rect x="1585.9" y="2155.4" width="5.2" height="340.2" fill="#000"/>
<rect x="1581.0" y="2490.4" width="348.5" height="5.4" fill="#000"/>
<rect x="1581.0" y="2490.8" width="7.5" height="4.5" fill="#000"/>
<text x="1579.1" y="2503.6" font-size="30.0" text-anchor="end">0.0</text>
<rect x="1581.0" y="2378.8" width="7.5" height="4.5" fill="#000"/>
<text x="1579.4" y="2391.6" font-size="30.0" text-anchor="end">0.1</text>
<rect x="1581.0" y="2266.8" width="7.5" height="4.5" fill="#000"/>
<text x="1579.4" y="2279.6" font-size="30.0" text-anchor="end">0.2</text>
<rect x="1581.0" y="2154.8" width="7.5" height="4.5" fill="#000"/>
<text x="1579.4" y="2167.6" font-size="30.0" text-anchor="end">0.3</text>
<rect x="1619.6" y="2493.1" width="5.0" height="7.5" fill="#000"/>
<rect x="1687.0" y="2493.1" width="5.0" height="7.5" fill="#000"/>
<rect x="1755.2" y="2493.1" width="5.0" height="7.5" fill="#000"/>
<rect x="1822.5" y="2493.1" width="5.0" height="7.5" fill="#000"/>
<rect x="1889.9" y="2493.1" width="5.0" height="7.5" fill="#000"/>
<text transform="translate(1567.2,2599.0) rotate(-45)" font-size="29.3">ZOS-M</text>
<text transform="translate(1633.3,2592.9) rotate(-45)" font-size="29.3">1mg/kg</text>
<text transform="translate(1689.2,2604.4) rotate(-45)" font-size="29.3">10mg/kg</text>
<text transform="translate(1768.9,2592.9) rotate(-45)" font-size="29.3">1mg/kg</text>
<text transform="translate(1824.0,2604.4) rotate(-45)" font-size="29.3">10mg/kg</text>
<rect x="1606.5" y="2617.2" width="98.6" height="4.8" fill="#000"/>
<rect x="1739.2" y="2617.2" width="100.0" height="4.8" fill="#000"/>
<text x="1578.0" y="2657.8" font-size="30.6">WT-iRGD</text>
<text x="1726.1" y="2657.8" font-size="30.3">DD-iRGD</text>
<text transform="translate(1526.2,2436.5) rotate(-90)" font-size="29.4">lung wet weight(g)</text>
<text transform="translate(1692.9,2263.7) rotate(-90)" font-size="23.0"><tspan font-style="italic">p</tspan>=0.0015</text>
<text transform="translate(1762.9,2259.4) rotate(-90)" font-size="23.0"><tspan font-style="italic">p</tspan>=0.0041</text>
<text transform="translate(1828.6,2236.4) rotate(-90)" font-size="23.0"><tspan font-style="italic">p</tspan>=0.9792</text>
<text transform="translate(1896.8,2229.8) rotate(-90)" font-size="23.0"><tspan font-style="italic">p</tspan>=0.6935</text>
<text x="610.5" y="2148.8" font-size="40.0">j</text>
<path d="M771.4,2313.7 H1025.3 V2367.7 H1032.0 V2421.5 H1045.4 V2475.6 H1112.2 V2529.7 H1132.3 V2583.5 H1172.3 V2635.6" fill="none" stroke="#1a7a1a" stroke-width="3.4" stroke-dasharray="9,7"/>
<path d="M771.4,2313.7 H1078.8 V2394.6 H1092.2 V2475.6 H1112.2 V2556.6 H1172.3" fill="none" stroke="#621e8e" stroke-width="3.4" stroke-linejoin="miter" stroke-linecap="butt"/>
<path d="M771.4,2313.7 H1025.3 V2367.7 H1038.7 V2421.5 H1105.5 V2475.6 H1112.2 V2529.7 H1132.3 V2583.5 H1172.3" fill="none" stroke="#e41a1c" stroke-width="3.4" stroke-linejoin="miter" stroke-linecap="butt"/>
<path d="M1112.2,2313.7 V2354.1" stroke="#f08a2a" stroke-width="3.4" fill="none"/>
<path d="M771.4,2313.7 H1072.1 V2354.1 H1172.3" fill="none" stroke="#0a0ab0" stroke-width="3.4" stroke-linejoin="miter" stroke-linecap="butt"/>
<path d="M771.4,2313.7 H1172.3" stroke="#000" stroke-width="3.4" fill="none"/>
<rect x="1130.7" y="2308.2" width="3.2" height="5.5" fill="#000"/>
<rect x="1170.8" y="2308.2" width="3.2" height="5.5" fill="#000"/>
<rect x="1110.6" y="2348.6" width="3.2" height="5.5" fill="#000"/>
<rect x="1130.7" y="2348.6" width="3.2" height="5.5" fill="#000"/>
<rect x="1170.8" y="2348.6" width="3.2" height="5.5" fill="#000"/>
<rect x="1170.8" y="2551.1" width="3.2" height="5.5" fill="#000"/>
<rect x="1170.8" y="2578.0" width="3.2" height="5.5" fill="#000"/>
<rect x="1023.7" y="2364.2" width="3.2" height="4.5" fill="#000"/>
<rect x="1037.1" y="2418.0" width="3.2" height="4.5" fill="#000"/>
<rect x="1103.9" y="2472.1" width="3.2" height="4.5" fill="#000"/>
<rect x="1110.6" y="2526.2" width="3.2" height="4.5" fill="#000"/>
<rect x="1130.7" y="2580.0" width="3.2" height="4.5" fill="#000"/>
<rect x="1070.5" y="2350.6" width="3.2" height="4.5" fill="#000"/>
<rect x="1077.2" y="2391.1" width="3.2" height="4.5" fill="#000"/>
<rect x="1090.6" y="2472.1" width="3.2" height="4.5" fill="#000"/>
<rect x="1110.6" y="2553.1" width="3.2" height="4.5" fill="#000"/>
<rect x="1030.4" y="2418.0" width="3.2" height="4.5" fill="#000"/>
<rect x="1043.8" y="2472.1" width="3.2" height="4.5" fill="#000"/>
<rect x="1110.6" y="2350.6" width="3.2" height="4.5" fill="#000"/>
<rect x="769.1" y="2278.6" width="5.2" height="361.6" fill="#000"/>
<rect x="765.1" y="2635.0" width="543.1" height="5.2" fill="#000"/>
<rect x="764.2" y="2311.4" width="7.5" height="4.5" fill="#000"/>
<text x="762.1" y="2324.1" font-size="30.0" text-anchor="end">100</text>
<rect x="764.2" y="2473.4" width="7.5" height="4.5" fill="#000"/>
<text x="762.0" y="2486.0" font-size="30.0" text-anchor="end">50</text>
<rect x="764.2" y="2635.3" width="7.5" height="4.5" fill="#000"/>
<text x="762.1" y="2648.0" font-size="30.0" text-anchor="end">0</text>
<rect x="769.1" y="2637.6" width="4.6" height="7.5" fill="#000"/>
<text x="763.0" y="2672.7" font-size="30.0">0</text>
<rect x="902.8" y="2637.6" width="4.6" height="7.5" fill="#000"/>
<text x="888.1" y="2672.7" font-size="30.0">20</text>
<rect x="1036.4" y="2637.6" width="4.6" height="7.5" fill="#000"/>
<text x="1022.2" y="2672.7" font-size="30.0">40</text>
<rect x="1170.0" y="2637.6" width="4.6" height="7.5" fill="#000"/>
<text x="1155.4" y="2672.7" font-size="30.0">60</text>
<rect x="1303.7" y="2637.6" width="4.6" height="7.5" fill="#000"/>
<text x="1289.2" y="2672.7" font-size="30.0">80</text>
<rect x="1303.7" y="2631.6" width="4.6" height="6.0" fill="#000"/>
<text x="841.0" y="2709.6" font-size="28.9">Time after transplantation(Day)</text>
<text transform="translate(694.4,2518.0) rotate(-90)" font-size="29.3">% survival</text>
<rect x="764.9" y="2090.7" width="19.3" height="3.2" fill="#000"/>
<rect x="773.2" y="2087.3" width="3.0" height="5.0" fill="#000"/>
<text x="796.0" y="2100.8" font-size="24.3" textLength="69.9" lengthAdjust="spacingAndGlyphs">Vector</text>
<rect x="764.9" y="2124.6" width="19.3" height="3.2" fill="#e41a1c"/>
<rect x="773.2" y="2121.2" width="3.0" height="5.0" fill="#000"/>
<text x="795.1" y="2134.6" font-size="24.3" textLength="180.3" lengthAdjust="spacingAndGlyphs">RAB22A-NeoF1</text>
<rect x="764.9" y="2158.4" width="19.3" height="3.2" fill="#0a0ab0"/>
<rect x="773.2" y="2155.0" width="3.0" height="5.0" fill="#000"/>
<text x="795.1" y="2169.3" font-size="24.3" textLength="398.8" lengthAdjust="spacingAndGlyphs">RAB22A-NeoF1+WT-iRGD 1mg/kg</text>
<rect x="764.9" y="2193.1" width="9.1" height="3.2" fill="#1a7a1a"/>
<rect x="781.0" y="2193.1" width="3.0" height="3.2" fill="#1a7a1a"/>
<rect x="773.2" y="2189.7" width="3.0" height="5.0" fill="#000"/>
<text x="795.1" y="2203.2" font-size="24.3" textLength="396.2" lengthAdjust="spacingAndGlyphs">RAB22A-NeoF1+DD-iRGD 1mg/kg</text>
<rect x="764.9" y="2227.0" width="19.3" height="3.2" fill="#f08a2a"/>
<rect x="773.2" y="2223.6" width="3.0" height="5.0" fill="#000"/>
<text x="795.1" y="2237.8" font-size="24.3" textLength="415.1" lengthAdjust="spacingAndGlyphs">RAB22A-NeoF1+WT--iRGD10mg/kg</text>
<rect x="764.9" y="2261.6" width="19.3" height="3.2" fill="#621e8e"/>
<rect x="773.2" y="2258.2" width="3.0" height="5.0" fill="#000"/>
<text x="795.1" y="2271.7" font-size="24.3" textLength="418.6" lengthAdjust="spacingAndGlyphs">RAB22A-NeoF1+DD--iRGD 10mg/kg</text>
<path d="M1197.4,2077.0 H1209.2 V2161.6 H1197.4" fill="none" stroke="#000" stroke-width="3.2"/>
<path d="M1227.0,2077.0 H1244.2 V2199.3 H1227.0" fill="none" stroke="#000" stroke-width="3.2"/>
<path d="M1262.4,2077.0 H1278.4 V2228.6 H1262.4" fill="none" stroke="#000" stroke-width="3.2"/>
<path d="M1300.9,2077.7 H1312.4 V2265.5 H1300.9" fill="none" stroke="#000" stroke-width="3.2"/>
<text transform="translate(1232.4,2165.8) rotate(-90)" font-size="20.2"><tspan font-style="italic">P</tspan>=0.3173</text>
<text transform="translate(1267.8,2188.9) rotate(-90)" font-size="20.2"><tspan font-style="italic">P</tspan>=0.0007</text>
<text transform="translate(1302.4,2179.6) rotate(-90)" font-size="20.2"><tspan font-style="italic">P</tspan>=0.3173</text>
<text transform="translate(1341.0,2208.9) rotate(-90)" font-size="20.2"><tspan font-style="italic">P</tspan>=0.004</text>
</svg>
</body></html>
